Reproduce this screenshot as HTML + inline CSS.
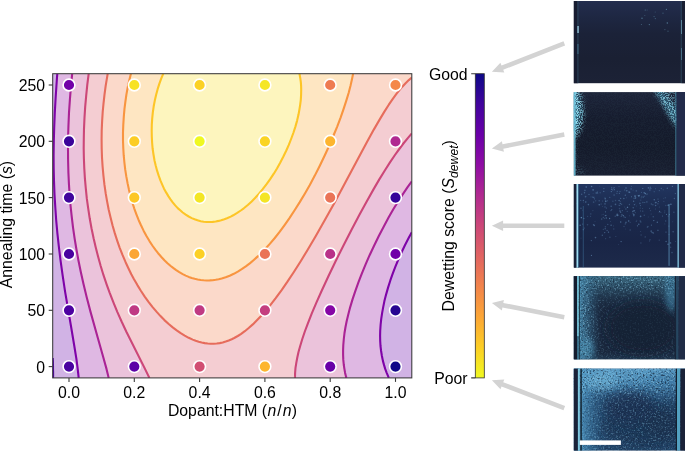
<!DOCTYPE html><html><head><meta charset="utf-8"><title>fig</title><style>html,body{margin:0;padding:0;background:#fff;overflow:hidden}svg{display:block;will-change:transform}text{font-family:"Liberation Sans",sans-serif;fill:#000}</style></head><body>
<svg width="685" height="452" viewBox="0 0 685 452">
<defs>
<clipPath id="pc"><rect x="52.7" y="73.7" width="359.1" height="304.2"/></clipPath>
<linearGradient id="cb" x1="0" y1="0" x2="0" y2="1"><stop offset="0" stop-color="#0d0887"/><stop offset="0.1" stop-color="#41049d"/><stop offset="0.2" stop-color="#6a00a8"/><stop offset="0.3" stop-color="#8f0da4"/><stop offset="0.4" stop-color="#b12a90"/><stop offset="0.5" stop-color="#cc4778"/><stop offset="0.6" stop-color="#e16462"/><stop offset="0.7" stop-color="#f2844b"/><stop offset="0.8" stop-color="#fca636"/><stop offset="0.9" stop-color="#fcce25"/><stop offset="1" stop-color="#f0f921"/></linearGradient>
<clipPath id="cp1"><rect x="573.6" y="1" width="111.4" height="82.4"/></clipPath>
<clipPath id="cp2"><rect x="573.6" y="92.1" width="111.4" height="83.7"/></clipPath>
<clipPath id="cp3"><rect x="573.6" y="184" width="111.4" height="83.8"/></clipPath>
<clipPath id="cp4"><rect x="573.6" y="276.1" width="111.4" height="83.5"/></clipPath>
<clipPath id="cp5"><rect x="573.6" y="368.4" width="111.4" height="82.3"/></clipPath>
<filter id="bl2" x="-0.3" y="-0.3" width="1.6" height="1.6"><feGaussianBlur stdDeviation="2.5"/></filter>
<filter id="bl4" x="-0.3" y="-0.3" width="1.6" height="1.6"><feGaussianBlur stdDeviation="5"/></filter>
<filter id="sB" x="0" y="0" width="1" height="1" color-interpolation-filters="sRGB"><feTurbulence type="fractalNoise" baseFrequency="0.9" numOctaves="2" seed="11"/><feColorMatrix type="matrix" values="0 0 0 0 0.498 0 0 0 0 0.824 0 0 0 0 0.910 7 0 0 0 -3.5"/><feGaussianBlur stdDeviation="0.45"/></filter>
<filter id="sD" x="0" y="0" width="1" height="1" color-interpolation-filters="sRGB"><feTurbulence type="fractalNoise" baseFrequency="0.9" numOctaves="2" seed="23"/><feColorMatrix type="matrix" values="0 0 0 0 0.047 0 0 0 0 0.086 0 0 0 0 0.149 0 0 7 0 -3.55"/><feGaussianBlur stdDeviation="0.45"/></filter>
<filter id="sE" x="0" y="0" width="1" height="1" color-interpolation-filters="sRGB"><feTurbulence type="fractalNoise" baseFrequency="0.85" numOctaves="2" seed="5"/><feColorMatrix type="matrix" values="0 0 0 0 0.659 0 0 0 0 0.902 0 0 0 0 0.957 0 8 0 0 -4.1"/><feGaussianBlur stdDeviation="0.45"/></filter>
<filter id="sG" x="0" y="0" width="1" height="1" color-interpolation-filters="sRGB"><feTurbulence type="fractalNoise" baseFrequency="0.6" numOctaves="2" seed="41"/><feColorMatrix type="matrix" values="0 0 0 0 0.549 0 0 0 0 0.784 0 0 0 0 0.894 4 0 0 0 -2.05"/><feGaussianBlur stdDeviation="0.55"/></filter>
<filter id="sH" x="0" y="0" width="1" height="1" color-interpolation-filters="sRGB"><feTurbulence type="fractalNoise" baseFrequency="0.6" numOctaves="2" seed="57"/><feColorMatrix type="matrix" values="0 0 0 0 0.055 0 0 0 0 0.102 0 0 0 0 0.173 0 4 0 0 -2.1"/><feGaussianBlur stdDeviation="0.55"/></filter>
<linearGradient id="p1b" gradientUnits="userSpaceOnUse" x1="0" y1="1" x2="0" y2="83.4"><stop offset="0" stop-color="#232d4e"/><stop offset="0.2" stop-color="#1e2742"/><stop offset="0.4" stop-color="#1b2238"/><stop offset="0.7" stop-color="#1a2033"/><stop offset="1" stop-color="#1c2236"/></linearGradient>
<linearGradient id="p2b" gradientUnits="userSpaceOnUse" x1="0" y1="92.1" x2="0" y2="175.8"><stop offset="0" stop-color="#1d2439"/><stop offset="0.3" stop-color="#161c2e"/><stop offset="0.65" stop-color="#141a2a"/><stop offset="1" stop-color="#191f31"/></linearGradient>
<mask id="m2"><rect x="573.6" y="92.1" width="111.4" height="83.7" fill="#080808"/><g filter="url(#bl2)"><ellipse cx="574" cy="112.1" rx="9" ry="25" fill="#fff"/><rect x="573" y="92.1" width="2" height="83.7" fill="#888"/><path d="M654 89.1L664 89.1L678 108.1L678 130.1Z" fill="#c8c8c8"/><rect x="668" y="90.1" width="8" height="12" fill="#777"/><rect x="576" y="168.8" width="8" height="5" fill="#444"/></g></mask>
<linearGradient id="p3b" gradientUnits="userSpaceOnUse" x1="0" y1="184" x2="0" y2="267.8"><stop offset="0" stop-color="#223660"/><stop offset="0.3" stop-color="#1b2a4e"/><stop offset="0.7" stop-color="#192546"/><stop offset="1" stop-color="#1d2a4a"/></linearGradient>
<linearGradient id="p4v" gradientUnits="userSpaceOnUse" x1="0" y1="276.1" x2="0" y2="359.6"><stop offset="0" stop-color="#41748c" stop-opacity="0.9"/><stop offset="0.15" stop-color="#335e76" stop-opacity="0.6"/><stop offset="0.28" stop-color="#2a4c64" stop-opacity="0.25"/><stop offset="0.38" stop-color="#2a4c64" stop-opacity="0"/><stop offset="0.9" stop-color="#2a4c68" stop-opacity="0"/><stop offset="1" stop-color="#2c5472" stop-opacity="0.35"/></linearGradient>
<linearGradient id="p4h" gradientUnits="userSpaceOnUse" x1="580" y1="0" x2="676" y2="0"><stop offset="0" stop-color="#4a8eb2" stop-opacity="0.85"/><stop offset="0.1" stop-color="#3c7698" stop-opacity="0.5"/><stop offset="0.22" stop-color="#2c5878" stop-opacity="0"/><stop offset="1" stop-color="#2c5878" stop-opacity="0"/></linearGradient>
<mask id="m4"><rect x="573.6" y="276.1" width="111.4" height="83.5" fill="#3a3a3a"/><ellipse cx="642" cy="326.1" rx="36" ry="27" fill="#141414" filter="url(#bl4)"/><rect x="573.6" y="274.1" width="111.4" height="16" fill="#909090" filter="url(#bl2)"/><rect x="578" y="276.1" width="14" height="83.5" fill="#909090" filter="url(#bl2)"/></mask>
<linearGradient id="p5v" gradientUnits="userSpaceOnUse" x1="0" y1="368.4" x2="0" y2="450.7"><stop offset="0" stop-color="#5ea2cc" stop-opacity="0.95"/><stop offset="0.18" stop-color="#4f92be" stop-opacity="0.85"/><stop offset="0.32" stop-color="#3c74a0" stop-opacity="0.45"/><stop offset="0.45" stop-color="#2d5a82" stop-opacity="0"/><stop offset="1" stop-color="#2d5a82" stop-opacity="0"/></linearGradient>
<linearGradient id="p5h" gradientUnits="userSpaceOnUse" x1="582" y1="0" x2="676" y2="0"><stop offset="0" stop-color="#4f98c4" stop-opacity="0.8"/><stop offset="0.12" stop-color="#3f80ac" stop-opacity="0.45"/><stop offset="0.28" stop-color="#2d5a82" stop-opacity="0"/><stop offset="1" stop-color="#2d5a82" stop-opacity="0"/></linearGradient>
<mask id="m5"><rect x="573.6" y="368.4" width="111.4" height="82.3" fill="#5a5a5a"/><rect x="573.6" y="364.4" width="111.4" height="30" fill="#a0a0a0" filter="url(#bl4)"/></mask>
</defs>
<rect width="685" height="452" fill="#fff"/>
<g clip-path="url(#pc)">
<rect x="52.7" y="73.7" width="359.1" height="304.2" fill="#c1b4e0"/>
<path d="M52.7 358.0 L52.8 359.9 L52.9 361.9 L52.9 363.9 L53.0 365.9 L53.0 367.9 L53.0 369.9 L53.1 371.9 L53.1 373.9 L53.1 375.9 L53.0 377.9 L52.7 375.9 L52.7 373.9 L52.7 371.9 L52.7 369.9 L52.7 367.9 L52.7 365.9 L52.7 363.9 L52.7 361.9 L52.7 359.9 L52.7 358.0 L52.7 358.0Z" fill="#c1b4e0" stroke="#c1b4e0" stroke-width="0.6" fill-rule="evenodd"/>
<path d="M53.7 73.7 L55.7 73.7 L57.3 73.7 L57.1 75.7 L57.0 77.7 L56.8 79.7 L56.7 81.2 L56.6 82.7 L56.5 84.7 L56.3 86.7 L56.2 88.7 L56.0 90.7 L55.9 92.7 L55.8 94.6 L55.7 96.0 L55.6 97.6 L55.5 99.6 L55.4 101.6 L55.2 103.6 L55.1 105.6 L55.0 107.6 L54.9 109.6 L54.8 111.6 L54.7 113.6 L54.6 115.6 L54.5 117.6 L54.5 119.6 L54.4 121.6 L54.3 123.6 L54.2 125.6 L54.2 127.6 L54.1 129.6 L54.0 131.5 L54.0 133.5 L53.9 135.5 L53.9 137.5 L53.8 139.5 L53.8 141.5 L53.8 143.5 L53.7 145.5 L53.7 147.4 L53.7 149.5 L53.7 151.5 L53.7 153.5 L53.6 155.5 L53.6 157.5 L53.6 159.5 L53.7 161.5 L53.7 163.5 L53.7 165.5 L53.7 167.5 L53.7 169.4 L53.8 171.4 L53.8 173.4 L53.9 175.4 L53.9 177.4 L54.0 179.4 L54.0 181.4 L54.1 183.4 L54.2 185.4 L54.2 187.4 L54.3 189.4 L54.4 191.4 L54.5 193.4 L54.6 195.4 L54.7 197.4 L54.8 199.4 L54.9 201.4 L55.0 203.4 L55.1 205.4 L55.3 207.3 L55.4 209.3 L55.5 211.3 L55.7 213.3 L55.8 215.3 L56.0 217.3 L56.1 219.3 L56.3 221.3 L56.5 223.3 L56.6 225.3 L56.8 227.3 L57.0 229.3 L57.2 231.3 L57.4 233.3 L57.6 235.3 L57.8 237.3 L58.0 239.3 L58.2 241.3 L58.4 243.3 L58.7 245.2 L58.9 247.2 L59.1 249.2 L59.4 251.2 L59.6 253.2 L59.9 255.2 L60.1 257.2 L60.4 259.2 L60.6 261.2 L60.9 263.2 L61.2 265.2 L61.4 267.2 L61.7 269.1 L62.0 271.2 L62.3 273.2 L62.6 275.2 L62.9 277.2 L63.2 279.2 L63.5 281.2 L63.7 282.6 L63.9 284.1 L64.3 286.1 L64.6 288.1 L64.9 290.1 L65.2 292.1 L65.5 294.1 L65.9 296.1 L66.2 298.1 L66.5 300.1 L66.9 302.1 L67.2 304.1 L67.5 306.1 L67.9 308.1 L68.2 310.1 L68.6 312.1 L68.9 314.1 L69.2 316.1 L69.6 318.1 L69.9 320.1 L70.3 322.0 L70.6 324.0 L71.0 326.0 L71.3 328.0 L71.7 330.0 L72.0 332.0 L72.3 334.0 L72.7 336.0 L73.0 338.0 L73.4 340.0 L73.7 342.0 L74.0 344.0 L74.3 346.0 L74.7 348.0 L75.0 350.0 L75.3 352.0 L75.6 354.0 L75.9 356.0 L76.2 358.0 L76.5 359.9 L76.7 361.5 L76.9 362.9 L77.2 364.9 L77.4 366.9 L77.7 368.9 L77.9 370.9 L78.2 372.9 L78.4 374.9 L78.6 376.9 L77.7 377.9 L75.7 377.9 L73.7 377.9 L71.7 377.9 L69.7 377.9 L67.7 377.9 L65.7 377.9 L63.7 377.9 L61.7 377.9 L59.7 377.9 L57.7 377.9 L55.7 377.9 L53.7 377.9 L53.1 375.9 L53.1 373.9 L53.1 371.9 L53.0 369.9 L53.0 367.9 L53.0 365.9 L52.9 363.9 L52.9 361.9 L52.8 359.9 L52.7 358.0 L52.7 356.0 L52.7 354.0 L52.7 352.0 L52.7 350.0 L52.7 348.0 L52.7 346.0 L52.7 344.0 L52.7 342.0 L52.7 340.0 L52.7 338.0 L52.7 336.0 L52.7 334.0 L52.7 332.0 L52.7 330.0 L52.7 328.0 L52.7 326.0 L52.7 324.0 L52.7 322.0 L52.7 320.1 L52.7 318.1 L52.7 316.1 L52.7 314.1 L52.7 312.1 L52.7 310.1 L52.7 308.1 L52.7 306.1 L52.7 304.1 L52.7 302.1 L52.7 300.1 L52.7 298.1 L52.7 296.1 L52.7 294.1 L52.7 292.1 L52.7 290.1 L52.7 288.1 L52.7 286.1 L52.7 284.1 L52.7 282.2 L52.7 280.2 L52.7 278.2 L52.7 276.2 L52.7 274.2 L52.7 272.2 L52.7 270.2 L52.7 268.2 L52.7 266.2 L52.7 264.2 L52.7 262.2 L52.7 260.2 L52.7 258.2 L52.7 256.2 L52.7 254.2 L52.7 252.2 L52.7 250.2 L52.7 248.2 L52.7 246.2 L52.7 244.3 L52.7 242.3 L52.7 240.3 L52.7 238.3 L52.7 236.3 L52.7 234.3 L52.7 232.3 L52.7 230.3 L52.7 228.3 L52.7 226.3 L52.7 224.3 L52.7 222.3 L52.7 220.3 L52.7 218.3 L52.7 216.3 L52.7 214.3 L52.7 212.3 L52.7 210.3 L52.7 208.3 L52.7 206.4 L52.7 204.4 L52.7 202.4 L52.7 200.4 L52.7 198.4 L52.7 196.4 L52.7 194.4 L52.7 192.4 L52.7 190.4 L52.7 188.4 L52.7 186.4 L52.7 184.4 L52.7 182.4 L52.7 180.4 L52.7 178.4 L52.7 176.4 L52.7 174.4 L52.7 172.4 L52.7 170.4 L52.7 168.5 L52.7 166.5 L52.7 164.5 L52.7 162.5 L52.7 160.5 L52.7 158.5 L52.7 156.5 L52.7 154.5 L52.7 152.5 L52.7 150.5 L52.7 148.5 L52.7 146.5 L52.7 144.5 L52.7 142.5 L52.7 140.5 L52.7 138.5 L52.7 136.5 L52.7 134.5 L52.7 132.5 L52.7 130.6 L52.7 128.6 L52.7 126.6 L52.7 124.6 L52.7 122.6 L52.7 120.6 L52.7 118.6 L52.7 116.6 L52.7 114.6 L52.7 112.6 L52.7 110.6 L52.7 108.6 L52.7 106.6 L52.7 104.6 L52.7 102.6 L52.7 100.6 L52.7 98.6 L52.7 96.6 L52.7 94.6 L52.7 92.7 L52.7 90.7 L52.7 88.7 L52.7 86.7 L52.7 84.7 L52.7 82.7 L52.7 80.7 L52.7 78.7 L52.7 76.7 L52.7 74.7 L53.7 73.7Z M411.8 232.2 L411.8 234.3 L411.8 236.3 L411.8 238.3 L411.8 240.3 L411.8 242.3 L411.8 244.3 L411.8 246.2 L411.8 248.2 L411.8 250.2 L411.8 252.2 L411.8 254.2 L411.8 256.2 L411.8 258.2 L411.8 260.2 L411.8 262.2 L411.8 264.2 L411.8 266.2 L411.8 268.2 L411.8 270.2 L411.8 272.2 L411.8 274.2 L411.8 276.2 L411.8 278.2 L411.8 280.2 L411.8 282.2 L411.8 284.1 L411.8 286.1 L411.8 288.1 L411.8 290.1 L411.8 292.1 L411.8 294.1 L411.8 296.1 L411.8 298.1 L411.8 300.1 L411.8 302.1 L411.8 304.1 L411.8 306.1 L411.8 308.1 L411.8 310.1 L411.8 312.1 L411.8 314.1 L411.8 316.1 L411.8 318.1 L411.8 320.1 L411.8 322.0 L411.8 324.0 L411.8 326.0 L411.8 328.0 L411.8 330.0 L411.8 332.0 L411.8 334.0 L411.8 336.0 L411.8 338.0 L411.8 340.0 L411.8 342.0 L411.8 344.0 L411.8 346.0 L411.8 348.0 L411.8 350.0 L411.8 352.0 L411.8 354.0 L411.8 356.0 L411.8 358.0 L411.8 359.9 L411.8 361.9 L411.8 363.9 L411.8 365.9 L411.8 367.9 L411.8 369.9 L411.8 371.9 L411.8 373.9 L411.8 375.9 L411.8 377.9 L409.8 377.9 L407.8 377.9 L405.8 377.9 L403.8 377.9 L401.8 377.9 L399.8 377.9 L397.8 377.9 L395.8 377.9 L393.8 377.9 L391.8 377.9 L389.8 377.9 L388.4 376.9 L387.8 375.6 L387.1 373.9 L386.3 371.9 L385.8 370.5 L385.2 368.9 L384.8 367.6 L384.3 365.9 L383.8 364.3 L383.4 362.9 L382.9 360.9 L382.5 358.9 L382.0 357.0 L381.8 355.6 L381.5 354.0 L381.2 352.0 L380.9 350.0 L380.7 348.0 L380.5 346.0 L380.4 344.0 L380.2 342.0 L380.2 340.0 L380.1 338.0 L380.1 336.0 L380.1 334.0 L380.2 332.0 L380.2 330.0 L380.4 328.0 L380.5 326.0 L380.7 324.0 L380.8 322.7 L381.0 321.0 L381.2 319.1 L381.5 317.1 L381.8 315.1 L382.1 313.1 L382.4 311.1 L382.8 309.1 L383.2 307.1 L383.6 305.1 L384.0 303.1 L384.4 301.1 L384.8 299.6 L385.2 298.1 L385.7 296.1 L386.2 294.1 L386.7 292.1 L387.3 290.1 L387.8 288.5 L388.2 287.1 L388.8 285.2 L389.4 283.1 L390.1 281.2 L390.8 279.2 L391.5 277.2 L392.2 275.2 L392.8 273.4 L393.3 272.2 L393.8 270.7 L394.4 269.2 L395.2 267.2 L395.8 265.6 L396.4 264.2 L397.2 262.2 L397.8 260.8 L398.5 259.2 L399.3 257.2 L400.2 255.2 L400.8 253.9 L401.6 252.2 L402.5 250.2 L403.5 248.2 L404.4 246.2 L405.4 244.3 L406.4 242.3 L407.5 240.3 L408.5 238.3 L409.6 236.3 L410.7 234.3 L411.8 232.3 L411.8 232.2Z" fill="#d1b3e5" stroke="#d1b3e5" stroke-width="0.6" fill-rule="evenodd"/>
<path d="M57.7 73.7 L59.7 73.7 L61.7 73.7 L63.7 73.7 L65.7 73.7 L67.7 73.7 L69.7 73.7 L71.7 73.7 L72.0 75.7 L71.8 77.7 L71.6 79.7 L71.4 81.7 L71.2 83.7 L71.0 85.7 L70.8 87.7 L70.7 89.3 L70.6 90.7 L70.4 92.7 L70.3 94.6 L70.1 96.6 L70.0 98.6 L69.8 100.6 L69.7 102.0 L69.6 103.6 L69.5 105.6 L69.3 107.6 L69.2 109.6 L69.1 111.6 L69.0 113.6 L68.9 115.6 L68.8 117.6 L68.7 119.1 L68.6 120.6 L68.5 122.6 L68.5 124.6 L68.4 126.6 L68.3 128.6 L68.3 130.6 L68.2 132.5 L68.2 134.5 L68.1 136.5 L68.1 138.5 L68.0 140.5 L68.0 142.5 L68.0 144.5 L68.0 146.5 L68.0 148.5 L68.0 150.5 L68.0 152.5 L68.0 154.5 L68.0 156.5 L68.0 158.5 L68.1 160.5 L68.1 162.5 L68.1 164.5 L68.2 166.5 L68.2 168.5 L68.3 170.4 L68.4 172.4 L68.5 174.4 L68.5 176.4 L68.6 178.4 L68.7 180.1 L68.8 181.4 L68.9 183.4 L69.0 185.4 L69.1 187.4 L69.2 189.4 L69.4 191.4 L69.5 193.4 L69.7 195.4 L69.8 197.4 L70.0 199.4 L70.2 201.4 L70.3 203.4 L70.5 205.4 L70.7 207.3 L70.9 209.3 L71.1 211.3 L71.3 213.3 L71.5 215.3 L71.7 216.7 L71.9 218.3 L72.1 220.3 L72.4 222.3 L72.6 224.3 L72.9 226.3 L73.2 228.3 L73.4 230.3 L73.7 232.3 L74.0 234.3 L74.3 236.3 L74.6 238.3 L74.9 240.3 L75.2 242.3 L75.5 244.3 L75.9 246.2 L76.2 248.2 L76.6 250.2 L76.9 252.2 L77.3 254.2 L77.6 256.2 L78.0 258.2 L78.4 260.2 L78.7 261.8 L79.0 263.2 L79.4 265.2 L79.7 266.8 L80.0 268.2 L80.4 270.2 L80.7 271.6 L81.0 273.2 L81.5 275.2 L81.9 277.2 L82.4 279.2 L82.7 280.7 L83.0 282.2 L83.5 284.1 L84.0 286.1 L84.4 288.1 L84.9 290.1 L85.4 292.1 L85.7 293.3 L86.2 295.1 L86.7 297.1 L87.2 299.1 L87.7 301.1 L88.2 303.1 L88.7 305.1 L89.2 307.1 L89.7 308.9 L90.0 310.1 L90.6 312.1 L91.1 314.1 L91.7 316.1 L92.2 318.1 L92.7 319.9 L93.0 321.0 L93.6 323.0 L94.2 325.0 L94.7 327.0 L95.3 329.0 L95.7 330.5 L96.1 332.0 L96.7 334.0 L97.3 336.0 L97.7 337.5 L98.1 339.0 L98.7 341.0 L99.3 343.0 L99.7 344.5 L100.1 346.0 L100.7 348.0 L101.3 350.0 L101.7 351.5 L102.1 353.0 L102.7 355.0 L103.2 357.0 L103.7 358.7 L104.1 359.9 L104.6 361.9 L105.1 363.9 L105.7 365.9 L106.2 367.9 L106.7 369.9 L107.2 371.9 L107.7 373.9 L108.2 375.9 L108.7 377.9 L106.7 377.9 L104.7 377.9 L102.7 377.9 L100.7 377.9 L98.7 377.9 L96.7 377.9 L94.7 377.9 L92.7 377.9 L90.7 377.9 L88.7 377.9 L86.7 377.9 L84.7 377.9 L82.7 377.9 L80.7 377.9 L78.7 377.9 L78.5 375.9 L78.3 373.9 L78.1 371.9 L77.8 369.9 L77.6 367.9 L77.3 365.9 L77.1 363.9 L76.8 361.9 L76.5 359.9 L76.2 358.0 L75.9 356.0 L75.7 354.6 L75.5 353.0 L75.1 351.0 L74.8 349.0 L74.5 347.0 L74.2 345.0 L73.9 343.0 L73.5 341.0 L73.2 339.0 L72.9 337.0 L72.5 335.0 L72.2 333.0 L71.8 331.0 L71.5 329.0 L71.1 327.0 L70.8 325.0 L70.5 323.0 L70.1 321.0 L69.8 319.1 L69.4 317.1 L69.1 315.1 L68.7 313.1 L68.4 311.1 L68.0 309.1 L67.7 307.1 L67.4 305.1 L67.0 303.1 L66.7 301.2 L66.4 299.1 L66.0 297.1 L65.7 295.2 L65.4 293.1 L65.0 291.1 L64.7 289.1 L64.4 287.1 L64.1 285.1 L63.8 283.1 L63.5 281.2 L63.2 279.2 L62.9 277.2 L62.6 275.2 L62.3 273.2 L62.0 271.2 L61.7 269.2 L61.4 267.2 L61.2 265.2 L60.9 263.2 L60.7 261.8 L60.5 260.2 L60.2 258.2 L60.0 256.2 L59.7 254.2 L59.5 252.2 L59.2 250.2 L59.0 248.2 L58.8 246.2 L58.5 244.3 L58.3 242.3 L58.1 240.3 L57.9 238.3 L57.7 236.4 L57.5 234.3 L57.3 232.3 L57.1 230.3 L56.9 228.3 L56.7 226.3 L56.5 224.3 L56.4 222.3 L56.2 220.3 L56.1 218.3 L55.9 216.3 L55.7 214.3 L55.6 212.3 L55.5 210.3 L55.3 208.3 L55.2 206.4 L55.1 204.4 L55.0 202.4 L54.8 200.4 L54.7 198.4 L54.6 196.4 L54.5 194.4 L54.4 192.4 L54.3 190.4 L54.3 188.4 L54.2 186.4 L54.1 184.4 L54.1 182.4 L54.0 180.4 L53.9 178.4 L53.9 176.4 L53.8 174.4 L53.8 172.4 L53.8 170.4 L53.7 168.5 L53.7 166.5 L53.7 164.5 L53.7 162.5 L53.7 160.5 L53.6 158.5 L53.6 156.5 L53.6 154.5 L53.7 152.5 L53.7 150.5 L53.7 148.5 L53.7 146.5 L53.7 144.5 L53.8 142.5 L53.8 140.5 L53.8 138.5 L53.9 136.5 L53.9 134.5 L54.0 132.5 L54.1 130.6 L54.1 128.6 L54.2 126.6 L54.3 124.6 L54.3 122.6 L54.4 120.6 L54.5 118.6 L54.6 116.6 L54.7 114.6 L54.8 112.6 L54.9 110.6 L55.0 108.6 L55.1 106.6 L55.2 104.6 L55.3 102.6 L55.4 100.6 L55.5 98.6 L55.7 96.6 L55.8 94.6 L55.9 92.7 L56.0 90.7 L56.2 88.7 L56.3 86.7 L56.5 84.7 L56.6 82.7 L56.7 81.2 L56.8 79.7 L57.0 77.7 L57.1 75.7 L57.3 73.7 L57.7 73.7Z M411.8 181.3 L411.8 183.4 L411.8 185.4 L411.8 187.4 L411.8 189.4 L411.8 191.4 L411.8 193.4 L411.8 195.4 L411.8 197.4 L411.8 199.4 L411.8 201.4 L411.8 203.4 L411.8 205.4 L411.8 207.3 L411.8 209.3 L411.8 211.3 L411.8 213.3 L411.8 215.3 L411.8 217.3 L411.8 219.3 L411.8 221.3 L411.8 223.3 L411.8 225.3 L411.8 227.3 L411.8 229.3 L411.8 231.3 L411.2 233.3 L410.1 235.3 L409.0 237.3 L408.0 239.3 L406.9 241.3 L405.9 243.3 L404.9 245.2 L403.9 247.2 L403.0 249.2 L402.0 251.2 L401.1 253.2 L400.2 255.2 L399.3 257.2 L398.8 258.4 L398.0 260.2 L397.2 262.2 L396.4 264.2 L395.8 265.6 L395.2 267.2 L394.4 269.2 L393.8 270.7 L393.3 272.2 L392.8 273.4 L392.2 275.2 L391.5 277.2 L390.8 279.1 L390.1 281.2 L389.4 283.1 L388.8 285.1 L388.2 287.1 L387.8 288.5 L387.3 290.1 L386.8 291.9 L386.5 293.1 L385.9 295.1 L385.4 297.1 L384.9 299.1 L384.4 301.1 L384.0 303.1 L383.6 305.1 L383.2 307.1 L382.8 309.0 L382.4 311.1 L382.1 313.1 L381.8 314.8 L381.6 316.1 L381.3 318.1 L381.1 320.1 L380.9 322.0 L380.7 324.0 L380.5 326.0 L380.4 328.0 L380.2 330.0 L380.2 332.0 L380.1 334.0 L380.1 336.0 L380.1 338.0 L380.2 340.0 L380.2 342.0 L380.4 344.0 L380.5 346.0 L380.7 348.0 L380.9 350.0 L381.2 352.0 L381.5 354.0 L381.8 355.6 L382.0 357.0 L382.5 358.9 L382.8 360.4 L383.2 361.9 L383.7 363.9 L384.3 365.9 L384.8 367.6 L385.2 368.9 L385.8 370.5 L386.3 371.9 L386.8 373.1 L387.5 374.9 L388.4 376.9 L386.8 377.9 L384.8 377.9 L382.8 377.9 L380.8 377.9 L378.8 377.9 L376.8 377.9 L374.8 377.9 L372.8 377.9 L370.8 377.9 L368.8 377.9 L366.8 377.9 L364.8 377.9 L362.8 377.9 L360.8 377.9 L358.8 377.9 L356.8 377.9 L354.8 377.9 L352.8 377.9 L350.8 377.9 L348.8 377.9 L346.8 377.9 L346.1 376.9 L345.8 375.7 L345.4 373.9 L344.9 371.9 L344.5 369.9 L344.2 367.9 L343.9 365.9 L343.7 363.9 L343.5 361.9 L343.3 359.9 L343.2 358.0 L343.1 356.0 L343.0 354.0 L343.0 352.0 L343.1 350.0 L343.1 348.0 L343.2 346.0 L343.3 344.0 L343.5 342.0 L343.7 340.0 L343.9 338.0 L344.1 336.0 L344.4 334.0 L344.7 332.0 L345.0 330.0 L345.4 328.0 L345.7 326.0 L346.1 324.0 L346.5 322.0 L346.8 320.8 L347.2 319.1 L347.6 317.1 L348.1 315.1 L348.6 313.1 L349.1 311.1 L349.7 309.1 L350.2 307.1 L350.8 305.2 L351.4 303.1 L351.8 301.8 L352.3 300.1 L352.8 298.6 L353.3 297.1 L353.8 295.5 L354.3 294.1 L354.8 292.5 L355.3 291.1 L355.8 289.6 L356.3 288.1 L356.8 286.8 L357.4 285.1 L358.1 283.1 L358.8 281.4 L359.2 280.2 L359.8 278.7 L360.4 277.2 L361.2 275.2 L361.8 273.6 L362.4 272.2 L363.2 270.2 L363.8 268.7 L364.4 267.2 L365.3 265.2 L365.8 264.0 L366.5 262.2 L367.4 260.2 L368.3 258.2 L368.8 257.1 L369.6 255.2 L370.5 253.2 L371.5 251.2 L372.4 249.2 L373.3 247.2 L374.3 245.2 L374.8 244.2 L375.7 242.3 L376.7 240.3 L377.7 238.3 L378.7 236.3 L379.7 234.3 L380.7 232.3 L381.7 230.3 L382.8 228.3 L383.8 226.4 L384.4 225.3 L385.4 223.3 L386.5 221.3 L387.6 219.3 L388.7 217.3 L389.8 215.5 L390.4 214.3 L391.6 212.3 L392.7 210.3 L393.8 208.6 L394.5 207.3 L395.7 205.4 L396.8 203.6 L397.6 202.4 L398.8 200.4 L399.8 198.8 L400.7 197.4 L401.8 195.7 L402.7 194.4 L403.8 192.7 L404.7 191.4 L405.3 190.4 L406.0 189.4 L406.7 188.4 L407.4 187.4 L408.1 186.4 L408.8 185.4 L409.5 184.4 L410.3 183.4 L411.0 182.4 L411.7 181.4 L411.8 181.3Z" fill="#dfb8e3" stroke="#dfb8e3" stroke-width="0.6" fill-rule="evenodd"/>
<path d="M72.7 73.7 L74.7 73.7 L76.7 73.7 L78.7 73.7 L80.7 73.7 L82.7 73.7 L84.7 73.7 L86.7 73.7 L88.7 73.7 L88.5 75.7 L88.2 77.7 L87.9 79.7 L87.7 81.5 L87.5 83.7 L87.2 85.7 L87.0 87.7 L86.8 89.7 L86.6 91.7 L86.3 93.6 L86.2 95.6 L86.0 97.6 L85.8 99.6 L85.6 101.6 L85.4 103.6 L85.3 105.6 L85.1 107.6 L85.0 109.6 L84.8 111.6 L84.7 113.6 L84.6 115.6 L84.5 117.6 L84.4 119.6 L84.3 121.6 L84.2 123.6 L84.1 125.6 L84.0 127.6 L84.0 129.6 L83.9 131.5 L83.8 133.5 L83.8 135.5 L83.8 137.5 L83.7 139.5 L83.7 141.5 L83.7 143.5 L83.7 145.5 L83.7 147.5 L83.7 149.5 L83.8 151.5 L83.8 153.5 L83.8 155.5 L83.9 157.5 L83.9 159.5 L84.0 161.5 L84.1 163.5 L84.2 165.5 L84.3 167.5 L84.4 169.4 L84.5 171.4 L84.6 173.4 L84.7 175.3 L84.9 177.4 L85.0 179.4 L85.2 181.4 L85.3 183.4 L85.5 185.4 L85.7 187.4 L85.9 189.4 L86.1 191.4 L86.3 193.4 L86.5 195.4 L86.7 197.2 L87.0 199.4 L87.2 201.4 L87.5 203.4 L87.7 205.2 L88.0 207.3 L88.3 209.3 L88.6 211.3 L88.9 213.3 L89.2 215.3 L89.5 217.3 L89.9 219.3 L90.2 221.3 L90.6 223.3 L90.9 225.3 L91.3 227.3 L91.7 229.3 L92.1 231.3 L92.5 233.3 L92.9 235.3 L93.4 237.3 L93.7 238.9 L94.0 240.3 L94.5 242.3 L94.9 244.3 L95.4 246.2 L95.7 247.5 L96.1 249.2 L96.6 251.2 L97.2 253.2 L97.7 255.2 L98.2 257.2 L98.7 259.0 L99.0 260.2 L99.6 262.2 L100.2 264.2 L100.7 266.0 L101.1 267.2 L101.7 269.2 L102.3 271.2 L102.7 272.6 L103.2 274.2 L103.7 275.7 L104.2 277.2 L104.7 278.7 L105.2 280.2 L105.7 281.7 L106.2 283.1 L106.7 284.6 L107.3 286.1 L107.7 287.4 L108.3 289.1 L109.1 291.1 L109.7 292.9 L110.2 294.1 L110.7 295.5 L111.3 297.1 L112.1 299.1 L112.7 300.7 L113.3 302.1 L114.1 304.1 L114.7 305.6 L115.3 307.1 L116.1 309.1 L116.7 310.4 L117.4 312.1 L118.3 314.1 L119.1 316.1 L119.7 317.4 L120.5 319.1 L121.4 321.0 L122.3 323.0 L123.2 325.0 L123.7 326.2 L124.6 328.0 L125.5 330.0 L126.5 332.0 L127.4 334.0 L128.4 336.0 L129.4 338.0 L130.4 340.0 L131.3 342.0 L132.3 344.0 L133.3 346.0 L134.3 348.0 L135.4 350.0 L136.4 352.0 L137.4 354.0 L138.4 356.0 L139.4 358.0 L140.4 359.9 L141.5 361.9 L142.5 363.9 L143.5 365.9 L144.5 367.9 L145.5 369.9 L146.5 371.9 L147.5 373.9 L148.5 375.9 L149.4 377.9 L147.7 377.9 L145.7 377.9 L143.7 377.9 L141.7 377.9 L139.7 377.9 L137.7 377.9 L135.7 377.9 L133.7 377.9 L131.7 377.9 L129.7 377.9 L127.7 377.9 L125.7 377.9 L123.7 377.9 L121.7 377.9 L119.7 377.9 L117.7 377.9 L115.7 377.9 L113.7 377.9 L111.7 377.9 L109.7 377.9 L108.4 376.9 L108.0 374.9 L107.5 372.9 L107.0 370.9 L106.5 368.9 L105.9 366.9 L105.4 364.9 L104.9 362.9 L104.3 360.9 L103.8 358.9 L103.2 357.0 L102.7 355.1 L102.1 353.0 L101.7 351.5 L101.3 350.0 L100.7 348.0 L100.1 346.0 L99.7 344.5 L99.3 343.0 L98.7 341.0 L98.1 339.0 L97.7 337.5 L97.3 336.0 L96.7 334.0 L96.1 332.0 L95.7 330.5 L95.3 329.0 L94.7 327.0 L94.2 325.0 L93.7 323.4 L93.3 322.0 L92.8 320.1 L92.2 318.1 L91.7 316.2 L91.4 315.1 L90.8 313.1 L90.3 311.1 L89.8 309.1 L89.2 307.1 L88.7 305.1 L88.2 303.1 L87.7 301.2 L87.2 299.1 L86.7 297.3 L86.4 296.1 L85.9 294.1 L85.4 292.1 L84.9 290.1 L84.4 288.1 L84.0 286.1 L83.5 284.1 L83.0 282.2 L82.7 280.7 L82.4 279.2 L81.9 277.2 L81.5 275.2 L81.0 273.2 L80.7 271.6 L80.4 270.2 L80.0 268.2 L79.7 266.8 L79.4 265.2 L79.0 263.2 L78.7 261.8 L78.4 260.2 L78.0 258.2 L77.7 256.6 L77.5 255.2 L77.1 253.2 L76.7 251.2 L76.4 249.2 L76.0 247.2 L75.7 245.2 L75.4 243.3 L75.1 241.3 L74.7 239.3 L74.4 237.3 L74.1 235.3 L73.9 233.3 L73.6 231.3 L73.3 229.3 L73.0 227.3 L72.8 225.3 L72.5 223.3 L72.3 221.3 L72.0 219.3 L71.8 217.3 L71.5 215.3 L71.3 213.3 L71.1 211.3 L70.9 209.3 L70.7 207.3 L70.5 205.4 L70.3 203.4 L70.2 201.4 L70.0 199.4 L69.8 197.4 L69.7 195.8 L69.6 194.4 L69.4 192.4 L69.3 190.4 L69.2 188.4 L69.1 186.4 L68.9 184.4 L68.8 182.4 L68.7 180.4 L68.6 178.4 L68.5 176.4 L68.5 174.4 L68.4 172.4 L68.3 170.4 L68.2 168.5 L68.2 166.5 L68.1 164.5 L68.1 162.5 L68.1 160.5 L68.0 158.5 L68.0 156.5 L68.0 154.5 L68.0 152.5 L68.0 150.5 L68.0 148.5 L68.0 146.5 L68.0 144.5 L68.0 142.5 L68.0 140.5 L68.1 138.5 L68.1 136.5 L68.2 134.5 L68.2 132.5 L68.3 130.6 L68.3 128.6 L68.4 126.6 L68.5 124.6 L68.5 122.6 L68.6 120.6 L68.7 119.1 L68.8 117.6 L68.9 115.6 L69.0 113.6 L69.1 111.6 L69.2 109.6 L69.3 107.6 L69.5 105.6 L69.6 103.6 L69.7 102.0 L69.8 100.6 L70.0 98.6 L70.1 96.6 L70.3 94.6 L70.4 92.7 L70.6 90.7 L70.7 89.3 L70.8 87.7 L71.0 85.7 L71.2 83.7 L71.4 81.7 L71.6 79.7 L71.7 78.5 L71.9 76.7 L72.1 74.7 L72.7 73.7Z M411.8 133.5 L411.8 135.5 L411.8 137.5 L411.8 139.5 L411.8 141.5 L411.8 143.5 L411.8 145.5 L411.8 147.5 L411.8 149.5 L411.8 151.5 L411.8 153.5 L411.8 155.5 L411.8 157.5 L411.8 159.5 L411.8 161.5 L411.8 163.5 L411.8 165.5 L411.8 167.5 L411.8 169.4 L411.8 171.4 L411.8 173.4 L411.8 175.4 L411.8 177.4 L411.8 179.4 L411.8 181.3 L411.0 182.4 L410.3 183.4 L409.5 184.4 L408.8 185.4 L408.1 186.4 L407.4 187.4 L406.7 188.4 L406.0 189.4 L405.3 190.4 L404.7 191.4 L404.0 192.4 L402.8 194.2 L402.0 195.4 L400.8 197.2 L400.1 198.4 L398.8 200.4 L397.8 202.0 L396.9 203.4 L395.8 205.2 L395.1 206.4 L393.9 208.3 L392.8 210.3 L392.2 211.3 L391.0 213.3 L389.9 215.3 L388.8 217.2 L388.2 218.3 L387.1 220.3 L386.0 222.3 L384.9 224.3 L383.8 226.3 L382.8 228.3 L381.8 230.2 L381.2 231.3 L380.2 233.3 L379.2 235.3 L378.2 237.3 L377.2 239.3 L376.2 241.3 L375.2 243.3 L374.3 245.2 L373.3 247.2 L372.8 248.4 L371.9 250.2 L371.0 252.2 L370.1 254.2 L369.2 256.2 L368.3 258.2 L367.8 259.4 L367.0 261.2 L366.1 263.2 L365.3 265.2 L364.8 266.3 L364.0 268.2 L363.2 270.2 L362.4 272.2 L361.8 273.6 L361.2 275.2 L360.4 277.2 L359.8 278.7 L359.2 280.2 L358.8 281.4 L358.1 283.1 L357.4 285.1 L356.8 286.8 L356.3 288.1 L355.8 289.6 L355.3 291.1 L354.8 292.5 L354.3 294.1 L353.8 295.5 L353.3 297.1 L352.8 298.6 L352.3 300.1 L351.8 301.8 L351.4 303.1 L350.8 305.1 L350.2 307.1 L349.8 308.7 L349.4 310.1 L348.9 312.1 L348.4 314.1 L347.9 316.1 L347.4 318.1 L347.0 320.1 L346.5 322.0 L346.1 324.0 L345.8 325.7 L345.5 327.0 L345.2 329.0 L344.8 331.0 L344.5 333.0 L344.3 335.0 L344.0 337.0 L343.8 339.0 L343.6 341.0 L343.4 343.0 L343.3 345.0 L343.2 347.0 L343.1 349.0 L343.0 351.0 L343.0 353.0 L343.1 355.0 L343.1 357.0 L343.2 358.9 L343.4 360.9 L343.5 362.9 L343.8 364.9 L344.0 366.9 L344.4 368.9 L344.7 370.9 L345.1 372.9 L345.6 374.9 L346.1 376.9 L344.8 377.9 L342.8 377.9 L340.8 377.9 L338.8 377.9 L336.8 377.9 L334.8 377.9 L332.8 377.9 L330.8 377.9 L328.8 377.9 L326.8 377.9 L324.8 377.9 L322.8 377.9 L320.8 377.9 L318.8 377.9 L316.8 377.9 L314.8 377.9 L312.8 377.9 L310.8 377.9 L308.8 377.9 L306.8 377.9 L304.8 377.9 L302.8 377.9 L300.8 377.9 L298.8 377.9 L296.8 377.9 L294.9 377.9 L295.0 375.9 L295.0 373.9 L295.2 371.9 L295.3 369.9 L295.5 367.9 L295.8 366.2 L295.9 364.9 L296.3 362.9 L296.6 360.9 L297.0 358.9 L297.4 357.0 L297.8 355.2 L298.1 354.0 L298.5 352.0 L299.1 350.0 L299.6 348.0 L300.2 346.0 L300.7 344.0 L301.3 342.0 L301.8 340.6 L302.3 339.0 L302.8 337.5 L303.3 336.0 L303.8 334.6 L304.3 333.0 L304.8 331.7 L305.4 330.0 L306.1 328.0 L306.8 326.2 L307.2 325.0 L307.8 323.6 L308.4 322.0 L309.1 320.1 L309.8 318.4 L310.3 317.1 L310.8 315.9 L311.5 314.1 L312.4 312.1 L313.2 310.1 L313.8 308.7 L314.4 307.1 L315.3 305.1 L316.2 303.1 L316.8 301.7 L317.5 300.1 L318.3 298.1 L319.2 296.1 L319.8 294.9 L320.6 293.1 L321.5 291.1 L322.4 289.1 L323.3 287.1 L324.2 285.1 L324.8 284.0 L325.6 282.2 L326.5 280.2 L327.5 278.2 L328.4 276.2 L329.4 274.2 L330.3 272.2 L331.3 270.2 L332.2 268.2 L332.8 267.1 L333.7 265.2 L334.7 263.2 L335.6 261.2 L336.6 259.2 L337.6 257.2 L338.6 255.2 L339.6 253.2 L340.6 251.2 L341.6 249.2 L342.6 247.2 L343.6 245.2 L344.6 243.3 L345.6 241.3 L346.6 239.3 L347.6 237.3 L348.7 235.3 L349.7 233.3 L350.7 231.3 L351.8 229.3 L352.8 227.3 L353.8 225.4 L354.4 224.3 L355.4 222.3 L356.5 220.3 L357.5 218.3 L358.6 216.3 L359.7 214.3 L360.7 212.3 L361.8 210.4 L362.8 208.5 L363.4 207.3 L364.5 205.4 L365.6 203.4 L366.7 201.4 L367.8 199.4 L368.4 198.4 L369.5 196.4 L370.6 194.4 L371.8 192.4 L372.8 190.6 L373.5 189.4 L374.6 187.4 L375.8 185.4 L376.8 183.7 L377.5 182.4 L378.7 180.4 L379.8 178.7 L380.5 177.4 L381.7 175.4 L382.8 173.7 L383.6 172.4 L384.8 170.5 L385.5 169.4 L386.7 167.5 L387.8 165.8 L388.6 164.5 L389.8 162.7 L390.6 161.5 L391.8 159.7 L392.6 158.5 L393.3 157.5 L394.0 156.5 L394.6 155.5 L395.3 154.5 L396.0 153.5 L396.7 152.5 L397.5 151.5 L398.2 150.5 L398.9 149.5 L399.6 148.5 L400.4 147.5 L401.1 146.5 L401.9 145.5 L402.6 144.5 L403.4 143.5 L404.2 142.5 L405.0 141.5 L405.8 140.5 L406.6 139.5 L407.4 138.5 L408.3 137.5 L409.1 136.5 L410.0 135.5 L410.8 134.6 L411.7 133.5 L411.8 133.5Z" fill="#ebc3db" stroke="#ebc3db" stroke-width="0.6" fill-rule="evenodd"/>
<path d="M88.7 73.9 L90.7 73.7 L92.7 73.7 L94.7 73.7 L96.7 73.7 L98.7 73.7 L100.7 73.7 L102.7 73.7 L104.7 73.7 L106.7 73.7 L107.5 74.7 L107.2 76.7 L106.8 78.7 L106.5 80.7 L106.2 82.7 L105.9 84.7 L105.6 86.7 L105.3 88.7 L105.0 90.7 L104.7 92.7 L104.5 94.6 L104.2 96.6 L104.0 98.6 L103.8 100.6 L103.6 102.6 L103.4 104.6 L103.2 106.6 L103.0 108.6 L102.8 110.6 L102.7 112.0 L102.6 113.6 L102.5 115.6 L102.3 117.6 L102.2 119.6 L102.1 121.6 L102.0 123.6 L101.9 125.6 L101.8 127.6 L101.8 129.6 L101.7 131.5 L101.7 133.5 L101.6 135.5 L101.6 137.5 L101.6 139.5 L101.6 141.5 L101.6 143.5 L101.6 145.5 L101.7 147.5 L101.7 149.3 L101.8 151.5 L101.8 153.5 L101.9 155.5 L102.0 157.5 L102.1 159.5 L102.2 161.5 L102.4 163.5 L102.5 165.5 L102.6 167.5 L102.8 169.4 L103.0 171.4 L103.2 173.4 L103.4 175.4 L103.6 177.4 L103.7 178.8 L103.9 180.4 L104.1 182.4 L104.4 184.4 L104.7 186.4 L104.9 188.4 L105.2 190.4 L105.5 192.4 L105.7 193.6 L106.0 195.4 L106.3 197.4 L106.7 199.4 L107.1 201.4 L107.4 203.4 L107.7 204.8 L108.0 206.4 L108.4 208.3 L108.7 209.7 L109.1 211.3 L109.5 213.3 L110.0 215.3 L110.5 217.3 L111.0 219.3 L111.5 221.3 L112.0 223.3 L112.5 225.3 L113.1 227.3 L113.6 229.3 L114.2 231.3 L114.7 232.9 L115.1 234.3 L115.7 236.1 L116.4 238.3 L117.1 240.3 L117.7 242.2 L118.4 244.3 L119.2 246.2 L119.7 247.8 L120.3 249.2 L120.7 250.4 L121.4 252.2 L122.2 254.2 L122.7 255.5 L123.4 257.2 L124.3 259.2 L125.1 261.2 L125.7 262.5 L126.5 264.2 L127.4 266.2 L128.4 268.2 L129.3 270.2 L130.3 272.2 L131.3 274.2 L132.4 276.2 L133.4 278.2 L134.5 280.2 L135.7 282.2 L136.7 284.0 L137.4 285.1 L138.6 287.1 L139.7 288.9 L140.5 290.1 L141.7 292.1 L142.4 293.1 L143.7 295.1 L144.4 296.1 L145.1 297.1 L145.8 298.1 L146.5 299.1 L147.3 300.1 L148.0 301.1 L148.7 302.1 L149.5 303.1 L150.3 304.1 L151.0 305.1 L151.8 306.1 L152.6 307.1 L153.4 308.1 L154.3 309.1 L155.1 310.1 L156.0 311.1 L156.8 312.1 L157.7 313.1 L158.6 314.1 L159.6 315.1 L160.5 316.1 L161.5 317.1 L162.4 318.1 L163.4 319.1 L164.4 320.1 L165.5 321.0 L166.6 322.0 L167.6 323.0 L168.7 324.0 L169.7 324.9 L170.7 325.7 L171.7 326.6 L172.7 327.4 L173.7 328.2 L174.7 329.0 L175.7 329.7 L176.7 330.4 L177.7 331.2 L178.7 331.9 L179.7 332.5 L181.7 333.8 L183.7 335.0 L184.7 335.6 L186.7 336.7 L188.7 337.8 L190.7 338.7 L192.7 339.6 L194.7 340.4 L196.4 341.0 L197.7 341.4 L199.7 342.0 L201.7 342.5 L203.7 342.9 L205.7 343.3 L207.7 343.5 L209.7 343.7 L211.7 343.7 L213.7 343.7 L215.7 343.6 L217.7 343.4 L219.7 343.1 L221.7 342.7 L223.7 342.2 L225.7 341.6 L227.5 341.0 L228.7 340.5 L230.0 340.0 L231.7 339.2 L233.8 338.3 L235.8 337.2 L237.8 336.0 L239.4 335.0 L240.8 334.1 L241.8 333.4 L242.8 332.7 L243.8 332.0 L244.8 331.2 L245.8 330.4 L246.8 329.6 L247.8 328.8 L248.8 327.9 L249.8 327.1 L250.8 326.2 L251.8 325.3 L252.8 324.4 L253.8 323.4 L254.8 322.4 L255.8 321.5 L256.8 320.4 L257.8 319.4 L258.8 318.4 L259.8 317.3 L260.8 316.2 L261.8 315.1 L262.7 314.1 L263.6 313.1 L264.5 312.1 L265.3 311.1 L266.2 310.1 L267.0 309.1 L267.8 308.1 L268.6 307.1 L269.5 306.1 L270.3 305.1 L271.1 304.1 L271.8 303.1 L272.6 302.1 L273.4 301.1 L274.2 300.1 L274.9 299.1 L275.7 298.1 L276.4 297.1 L277.2 296.1 L277.9 295.1 L278.6 294.1 L279.4 293.1 L280.1 292.1 L280.8 291.1 L281.5 290.1 L282.2 289.1 L282.9 288.1 L283.6 287.1 L284.3 286.1 L285.0 285.1 L285.7 284.1 L286.4 283.1 L287.1 282.2 L287.8 281.2 L288.4 280.2 L289.1 279.2 L289.8 278.2 L290.8 276.7 L291.7 275.2 L292.8 273.6 L293.7 272.2 L294.8 270.5 L295.6 269.2 L296.8 267.4 L297.5 266.2 L298.8 264.2 L299.4 263.2 L300.7 261.2 L301.8 259.4 L302.5 258.2 L303.7 256.2 L304.8 254.5 L305.6 253.2 L306.8 251.2 L307.8 249.6 L308.6 248.2 L309.8 246.2 L310.8 244.5 L311.5 243.3 L312.7 241.3 L313.8 239.4 L314.4 238.3 L315.6 236.3 L316.8 234.3 L317.8 232.5 L318.5 231.3 L319.6 229.3 L320.8 227.3 L321.8 225.5 L322.4 224.3 L323.6 222.3 L324.7 220.3 L325.8 218.4 L326.4 217.3 L327.5 215.3 L328.6 213.3 L329.7 211.3 L330.8 209.4 L331.8 207.5 L332.4 206.4 L333.5 204.4 L334.6 202.4 L335.7 200.4 L336.8 198.4 L337.8 196.5 L338.4 195.4 L339.5 193.4 L340.5 191.4 L341.6 189.4 L342.7 187.4 L343.8 185.4 L344.8 183.5 L345.4 182.4 L346.4 180.4 L347.5 178.4 L348.5 176.4 L349.6 174.4 L350.7 172.4 L351.7 170.4 L352.8 168.5 L353.8 166.6 L354.4 165.5 L355.4 163.5 L356.5 161.5 L357.6 159.5 L358.6 157.5 L359.7 155.5 L360.8 153.5 L361.8 151.6 L362.4 150.5 L363.4 148.5 L364.5 146.5 L365.6 144.5 L366.7 142.5 L367.8 140.5 L368.8 138.7 L369.4 137.5 L370.5 135.5 L371.6 133.5 L372.7 131.5 L373.8 129.6 L374.4 128.6 L375.5 126.6 L376.7 124.6 L377.8 122.6 L378.4 121.6 L379.6 119.6 L380.7 117.6 L381.8 115.8 L382.5 114.6 L383.8 112.6 L384.8 110.9 L385.6 109.6 L386.8 107.8 L387.5 106.6 L388.8 104.7 L389.5 103.6 L390.2 102.6 L390.8 101.6 L391.5 100.6 L392.2 99.6 L392.9 98.6 L393.6 97.6 L394.4 96.6 L395.1 95.6 L395.8 94.6 L396.6 93.6 L397.4 92.7 L398.1 91.7 L398.9 90.7 L399.8 89.7 L400.6 88.7 L401.5 87.7 L402.3 86.7 L403.2 85.7 L404.2 84.7 L405.1 83.7 L406.1 82.7 L407.1 81.7 L408.1 80.7 L409.2 79.7 L410.4 78.7 L411.5 77.7 L411.8 79.7 L411.8 81.7 L411.8 83.7 L411.8 85.7 L411.8 87.7 L411.8 89.7 L411.8 91.7 L411.8 93.6 L411.8 95.6 L411.8 97.6 L411.8 99.6 L411.8 101.6 L411.8 103.6 L411.8 105.6 L411.8 107.6 L411.8 109.6 L411.8 111.6 L411.8 113.6 L411.8 115.6 L411.8 117.6 L411.8 119.6 L411.8 121.6 L411.8 123.6 L411.8 125.6 L411.8 127.6 L411.8 129.6 L411.8 131.5 L411.8 133.5 L410.8 134.5 L410.0 135.5 L409.1 136.5 L408.3 137.5 L407.4 138.5 L406.6 139.5 L405.8 140.5 L405.0 141.5 L404.2 142.5 L403.4 143.5 L402.6 144.5 L401.9 145.5 L401.1 146.5 L400.4 147.5 L399.6 148.5 L398.9 149.5 L398.2 150.5 L397.5 151.5 L396.7 152.5 L396.0 153.5 L395.3 154.5 L394.6 155.5 L394.0 156.5 L393.3 157.5 L392.6 158.5 L391.9 159.5 L390.8 161.2 L389.9 162.5 L388.8 164.2 L388.0 165.5 L386.8 167.3 L386.1 168.5 L384.8 170.4 L383.8 172.1 L383.0 173.4 L381.8 175.4 L381.1 176.4 L379.9 178.4 L378.8 180.3 L378.1 181.4 L377.0 183.4 L375.8 185.4 L374.8 187.1 L374.1 188.4 L372.9 190.4 L371.8 192.3 L370.8 194.1 L370.1 195.4 L368.9 197.4 L367.8 199.4 L366.8 201.2 L366.2 202.4 L365.1 204.4 L364.0 206.4 L362.9 208.3 L361.8 210.3 L360.8 212.2 L360.2 213.3 L359.1 215.3 L358.1 217.3 L357.0 219.3 L355.9 221.3 L354.9 223.3 L353.8 225.3 L352.8 227.3 L351.8 229.2 L350.8 231.2 L350.2 232.3 L349.2 234.3 L348.1 236.3 L347.1 238.3 L346.1 240.3 L345.1 242.3 L344.1 244.3 L343.1 246.2 L342.1 248.2 L341.1 250.2 L340.1 252.2 L339.1 254.2 L338.1 256.2 L337.1 258.2 L336.1 260.2 L335.2 262.2 L334.2 264.2 L333.2 266.2 L332.2 268.2 L331.3 270.2 L330.3 272.2 L329.8 273.3 L328.9 275.2 L328.0 277.2 L327.0 279.2 L326.1 281.2 L325.1 283.1 L324.2 285.1 L323.3 287.1 L322.8 288.3 L321.9 290.1 L321.0 292.1 L320.1 294.1 L319.2 296.1 L318.3 298.1 L317.8 299.4 L317.0 301.1 L316.2 303.1 L315.3 305.1 L314.8 306.3 L314.0 308.1 L313.2 310.1 L312.4 312.1 L311.8 313.5 L311.1 315.1 L310.3 317.1 L309.8 318.4 L309.1 320.1 L308.4 322.0 L307.8 323.6 L307.2 325.0 L306.8 326.2 L306.1 328.0 L305.4 330.0 L304.8 331.7 L304.3 333.0 L303.8 334.6 L303.3 336.0 L302.8 337.5 L302.3 339.0 L301.8 340.6 L301.3 342.0 L300.8 343.9 L300.2 346.0 L299.8 347.4 L299.3 349.0 L298.8 351.0 L298.3 353.0 L297.8 355.0 L297.4 357.0 L297.0 358.9 L296.6 360.9 L296.3 362.9 L295.9 364.9 L295.8 366.2 L295.5 367.9 L295.3 369.9 L295.2 371.9 L295.0 373.9 L295.0 375.9 L294.9 377.9 L292.8 377.9 L290.8 377.9 L288.8 377.9 L286.8 377.9 L284.8 377.9 L282.8 377.9 L280.8 377.9 L278.8 377.9 L276.8 377.9 L274.8 377.9 L272.8 377.9 L270.8 377.9 L268.8 377.9 L266.8 377.9 L264.8 377.9 L262.8 377.9 L260.8 377.9 L258.8 377.9 L256.8 377.9 L254.8 377.9 L252.8 377.9 L250.8 377.9 L248.8 377.9 L246.8 377.9 L244.8 377.9 L242.8 377.9 L240.8 377.9 L238.8 377.9 L236.8 377.9 L234.8 377.9 L232.8 377.9 L230.7 377.9 L228.7 377.9 L226.7 377.9 L224.7 377.9 L222.7 377.9 L220.7 377.9 L218.7 377.9 L216.7 377.9 L214.7 377.9 L212.7 377.9 L210.7 377.9 L208.7 377.9 L206.7 377.9 L204.7 377.9 L202.7 377.9 L200.7 377.9 L198.7 377.9 L196.7 377.9 L194.7 377.9 L192.7 377.9 L190.7 377.9 L188.7 377.9 L186.7 377.9 L184.7 377.9 L182.7 377.9 L180.7 377.9 L178.7 377.9 L176.7 377.9 L174.7 377.9 L172.7 377.9 L170.7 377.9 L168.7 377.9 L166.7 377.9 L164.7 377.9 L162.7 377.9 L160.7 377.9 L158.7 377.9 L156.7 377.9 L154.7 377.9 L152.7 377.9 L150.7 377.9 L149.4 377.9 L148.7 376.4 L148.0 374.9 L147.0 372.9 L146.0 370.9 L145.0 368.9 L144.0 366.9 L143.0 364.9 L142.0 362.9 L141.0 360.9 L139.9 358.9 L138.9 357.0 L137.9 355.0 L136.9 353.0 L135.9 351.0 L134.9 349.0 L133.8 347.0 L132.8 345.0 L131.8 343.0 L130.8 341.0 L129.9 339.0 L128.9 337.0 L127.9 335.0 L127.0 333.0 L126.0 331.0 L125.1 329.0 L124.1 327.0 L123.2 325.0 L122.3 323.0 L121.7 321.8 L120.9 320.1 L120.0 318.1 L119.1 316.1 L118.3 314.1 L117.7 312.8 L117.0 311.1 L116.1 309.1 L115.3 307.1 L114.7 305.6 L114.1 304.1 L113.3 302.1 L112.7 300.7 L112.1 299.1 L111.3 297.1 L110.7 295.5 L110.2 294.1 L109.7 292.9 L109.1 291.1 L108.3 289.1 L107.7 287.4 L107.3 286.1 L106.7 284.6 L106.2 283.1 L105.7 281.7 L105.2 280.2 L104.7 278.7 L104.2 277.2 L103.7 275.7 L103.2 274.2 L102.7 272.6 L102.3 271.2 L101.7 269.3 L101.1 267.2 L100.7 266.0 L100.2 264.2 L99.7 262.6 L99.3 261.2 L98.8 259.2 L98.2 257.2 L97.7 255.3 L97.2 253.2 L96.7 251.5 L96.4 250.2 L95.9 248.2 L95.4 246.2 L94.9 244.3 L94.5 242.3 L94.0 240.3 L93.7 238.9 L93.4 237.3 L92.9 235.3 L92.5 233.3 L92.1 231.3 L91.7 229.3 L91.3 227.3 L90.9 225.3 L90.7 224.0 L90.4 222.3 L90.0 220.3 L89.7 218.3 L89.4 216.3 L89.1 214.3 L88.7 212.3 L88.4 210.3 L88.2 208.3 L87.9 206.4 L87.6 204.4 L87.3 202.4 L87.1 200.4 L86.8 198.4 L86.6 196.4 L86.4 194.4 L86.2 192.4 L86.0 190.4 L85.8 188.4 L85.6 186.4 L85.4 184.4 L85.2 182.4 L85.1 180.4 L84.9 178.4 L84.8 176.4 L84.7 174.4 L84.5 172.4 L84.4 170.4 L84.3 168.5 L84.2 166.5 L84.1 164.5 L84.0 162.5 L84.0 160.5 L83.9 158.5 L83.9 156.5 L83.8 154.5 L83.8 152.5 L83.7 150.5 L83.7 148.5 L83.7 146.5 L83.7 144.5 L83.7 142.5 L83.7 140.5 L83.8 138.5 L83.8 136.5 L83.8 134.5 L83.9 132.5 L83.9 130.6 L84.0 128.6 L84.1 126.6 L84.1 124.6 L84.2 122.6 L84.3 120.6 L84.4 118.6 L84.5 116.6 L84.6 114.6 L84.8 112.6 L84.9 110.6 L85.0 108.6 L85.2 106.6 L85.4 104.6 L85.5 102.6 L85.7 100.6 L85.9 98.6 L86.1 96.6 L86.2 94.6 L86.5 92.7 L86.7 90.7 L86.9 88.7 L87.1 86.7 L87.3 84.7 L87.6 82.7 L87.8 80.7 L88.1 78.7 L88.3 76.7 L88.6 74.7 L88.7 73.9Z" fill="#f4cdd2" stroke="#f4cdd2" stroke-width="0.6" fill-rule="evenodd"/>
<path d="M107.7 73.7 L109.7 73.7 L111.7 73.7 L113.7 73.7 L115.7 73.7 L117.7 73.7 L119.7 73.7 L121.7 73.7 L123.7 73.7 L125.7 73.7 L127.7 73.7 L129.7 73.7 L130.6 74.7 L130.1 76.7 L129.7 78.2 L129.4 79.7 L128.9 81.7 L128.5 83.7 L128.1 85.7 L127.7 87.4 L127.5 88.7 L127.1 90.7 L126.8 92.7 L126.4 94.6 L126.1 96.6 L125.8 98.6 L125.5 100.6 L125.2 102.6 L125.0 104.6 L124.7 106.6 L124.5 108.6 L124.3 110.6 L124.1 112.6 L123.9 114.6 L123.8 116.6 L123.6 118.6 L123.5 120.6 L123.4 122.6 L123.3 124.6 L123.2 126.6 L123.1 128.6 L123.1 130.6 L123.0 132.5 L123.0 134.5 L123.0 136.5 L123.0 138.5 L123.0 140.5 L123.1 142.5 L123.1 144.5 L123.2 146.5 L123.3 148.5 L123.4 150.5 L123.5 152.5 L123.7 154.5 L123.8 156.5 L124.0 158.5 L124.2 160.5 L124.4 162.5 L124.6 164.5 L124.8 166.5 L125.1 168.5 L125.4 170.4 L125.7 172.4 L126.0 174.4 L126.3 176.4 L126.6 178.4 L127.0 180.4 L127.4 182.4 L127.7 184.1 L128.0 185.4 L128.4 187.4 L128.7 188.7 L129.1 190.4 L129.6 192.4 L130.1 194.4 L130.6 196.4 L131.2 198.4 L131.7 200.4 L132.3 202.4 L132.7 203.7 L133.2 205.4 L133.7 206.8 L134.2 208.3 L134.7 209.8 L135.3 211.3 L135.7 212.6 L136.4 214.3 L137.1 216.3 L137.7 217.8 L138.4 219.3 L139.2 221.3 L139.7 222.5 L140.5 224.3 L141.4 226.3 L142.4 228.3 L143.4 230.3 L144.4 232.3 L145.5 234.3 L146.6 236.3 L147.7 238.2 L148.4 239.3 L149.6 241.3 L150.7 243.1 L151.5 244.3 L152.2 245.2 L152.9 246.2 L153.6 247.2 L154.3 248.2 L155.0 249.2 L155.8 250.2 L156.5 251.2 L157.3 252.2 L158.1 253.2 L158.9 254.2 L159.7 255.1 L160.7 256.2 L161.6 257.2 L162.5 258.2 L163.4 259.2 L164.4 260.2 L165.4 261.2 L166.4 262.2 L167.5 263.2 L168.6 264.2 L169.7 265.2 L170.7 266.0 L171.7 266.9 L172.7 267.6 L173.7 268.4 L174.7 269.1 L175.7 269.8 L176.7 270.5 L178.7 271.8 L180.7 273.0 L182.7 274.1 L184.7 275.1 L186.7 276.0 L188.7 276.9 L190.7 277.6 L192.4 278.2 L193.7 278.5 L195.7 279.1 L197.7 279.5 L199.7 279.9 L201.7 280.2 L203.7 280.3 L205.7 280.5 L207.7 280.5 L209.7 280.4 L211.7 280.3 L213.4 280.2 L214.7 280.0 L216.7 279.7 L218.7 279.3 L220.7 278.8 L222.7 278.2 L224.7 277.6 L226.0 277.2 L227.7 276.5 L229.7 275.7 L230.9 275.2 L232.8 274.3 L234.8 273.3 L236.8 272.2 L238.5 271.2 L239.8 270.4 L241.7 269.2 L242.8 268.5 L243.8 267.8 L244.8 267.1 L245.8 266.4 L246.8 265.7 L247.8 264.9 L248.8 264.1 L249.8 263.4 L250.8 262.6 L251.8 261.7 L252.8 260.9 L253.8 260.0 L254.7 259.2 L255.8 258.2 L256.8 257.3 L257.8 256.4 L258.8 255.5 L259.8 254.5 L260.8 253.5 L261.8 252.5 L262.8 251.5 L263.8 250.5 L264.8 249.4 L265.8 248.3 L266.8 247.2 L267.7 246.2 L268.6 245.2 L269.4 244.3 L270.3 243.3 L271.2 242.3 L272.0 241.3 L272.9 240.3 L273.7 239.3 L274.5 238.3 L275.3 237.3 L276.1 236.3 L276.9 235.3 L277.7 234.3 L278.5 233.3 L279.2 232.3 L280.0 231.3 L280.8 230.3 L281.5 229.3 L282.3 228.3 L283.0 227.3 L283.7 226.3 L284.4 225.3 L285.2 224.3 L285.9 223.3 L286.6 222.3 L287.3 221.3 L288.0 220.3 L288.7 219.3 L289.3 218.3 L290.0 217.3 L290.7 216.3 L291.8 214.7 L292.7 213.3 L293.8 211.7 L294.6 210.3 L295.8 208.6 L296.5 207.3 L297.8 205.4 L298.4 204.4 L299.6 202.4 L300.8 200.5 L301.4 199.4 L302.6 197.4 L303.8 195.4 L304.4 194.4 L305.5 192.4 L306.7 190.4 L307.8 188.5 L308.4 187.4 L309.5 185.4 L310.6 183.4 L311.7 181.4 L312.7 179.4 L313.8 177.5 L314.8 175.6 L315.4 174.4 L316.4 172.4 L317.4 170.4 L318.4 168.5 L319.4 166.5 L320.4 164.5 L321.4 162.5 L322.3 160.5 L323.3 158.5 L324.3 156.5 L324.8 155.4 L325.6 153.5 L326.6 151.5 L327.5 149.5 L328.4 147.5 L329.3 145.5 L329.8 144.3 L330.6 142.5 L331.4 140.5 L332.3 138.5 L332.8 137.4 L333.5 135.5 L334.4 133.5 L335.2 131.5 L335.8 130.1 L336.4 128.6 L337.2 126.6 L337.8 125.0 L338.3 123.6 L338.8 122.4 L339.5 120.6 L340.2 118.6 L340.8 117.0 L341.3 115.6 L341.8 114.2 L342.4 112.6 L342.8 111.4 L343.4 109.6 L343.8 108.5 L344.4 106.6 L344.8 105.4 L345.4 103.6 L345.8 102.3 L346.3 100.6 L346.8 99.1 L347.2 97.6 L347.8 95.7 L348.4 93.6 L348.8 92.2 L349.2 90.7 L349.7 88.7 L350.2 86.7 L350.7 84.7 L351.2 82.7 L351.7 80.7 L352.1 78.7 L352.5 76.7 L352.8 75.2 L353.1 73.7 L354.8 73.7 L356.8 73.7 L358.8 73.7 L360.8 73.7 L362.8 73.7 L364.8 73.7 L366.8 73.7 L368.8 73.7 L370.8 73.7 L372.8 73.7 L374.8 73.7 L376.8 73.7 L378.8 73.7 L380.8 73.7 L382.8 73.7 L384.8 73.7 L386.8 73.7 L388.8 73.7 L390.8 73.7 L392.8 73.7 L394.8 73.7 L396.8 73.7 L398.8 73.7 L400.8 73.7 L402.8 73.7 L404.8 73.7 L406.8 73.7 L408.8 73.7 L410.8 73.7 L411.8 74.7 L411.8 76.7 L410.8 78.3 L409.8 79.2 L408.8 80.1 L407.8 81.0 L406.8 82.0 L405.8 83.0 L404.8 84.0 L403.8 85.1 L402.8 86.1 L401.8 87.3 L400.8 88.4 L399.8 89.6 L398.9 90.7 L398.1 91.7 L397.4 92.7 L396.6 93.6 L395.8 94.6 L395.1 95.6 L394.4 96.6 L393.6 97.6 L392.9 98.6 L392.2 99.6 L391.5 100.6 L390.8 101.6 L390.2 102.6 L389.5 103.6 L388.8 104.7 L387.8 106.2 L386.9 107.6 L385.8 109.3 L385.0 110.6 L383.8 112.5 L383.1 113.6 L381.9 115.6 L380.8 117.5 L380.1 118.6 L379.0 120.6 L377.8 122.6 L376.8 124.3 L376.1 125.6 L375.0 127.6 L373.8 129.6 L372.8 131.4 L372.2 132.5 L371.1 134.5 L370.0 136.5 L368.9 138.5 L367.8 140.5 L366.8 142.3 L366.1 143.5 L365.1 145.5 L364.0 147.5 L362.9 149.5 L361.8 151.5 L360.8 153.5 L359.8 155.3 L359.2 156.5 L358.1 158.5 L357.0 160.5 L356.0 162.5 L354.9 164.5 L353.9 166.5 L352.8 168.5 L351.8 170.4 L351.2 171.4 L350.1 173.4 L349.1 175.4 L348.0 177.4 L347.0 179.4 L345.9 181.4 L344.8 183.4 L343.8 185.4 L342.8 187.2 L342.2 188.4 L341.1 190.4 L340.0 192.4 L338.9 194.4 L337.9 196.4 L336.8 198.4 L335.8 200.2 L335.1 201.4 L334.1 203.4 L333.0 205.4 L331.9 207.3 L330.8 209.3 L329.8 211.2 L329.1 212.3 L328.0 214.3 L326.9 216.3 L325.8 218.3 L324.8 220.2 L324.1 221.3 L323.0 223.3 L321.9 225.3 L320.8 227.3 L319.8 229.0 L319.0 230.3 L317.9 232.3 L316.8 234.3 L315.8 236.0 L315.0 237.3 L313.9 239.3 L312.8 241.1 L312.1 242.3 L310.9 244.3 L309.8 246.2 L308.8 247.9 L308.0 249.2 L306.8 251.2 L305.8 252.9 L305.0 254.2 L303.8 256.2 L303.1 257.2 L301.9 259.2 L300.8 261.0 L300.0 262.2 L298.8 264.2 L297.8 265.8 L296.9 267.2 L295.8 269.0 L295.0 270.2 L293.8 272.1 L293.0 273.2 L291.8 275.1 L291.1 276.2 L289.8 278.2 L289.1 279.2 L288.4 280.2 L287.8 281.2 L287.1 282.2 L286.4 283.1 L285.7 284.1 L285.0 285.1 L284.3 286.1 L283.6 287.1 L282.9 288.1 L282.2 289.1 L281.5 290.1 L280.8 291.1 L280.1 292.1 L279.4 293.1 L278.6 294.1 L277.9 295.1 L277.2 296.1 L276.4 297.1 L275.7 298.1 L274.9 299.1 L274.2 300.1 L273.4 301.1 L272.6 302.1 L271.8 303.1 L271.1 304.1 L270.3 305.1 L269.5 306.1 L268.6 307.1 L267.8 308.1 L267.0 309.1 L266.2 310.1 L265.3 311.1 L264.5 312.1 L263.6 313.1 L262.8 314.0 L261.8 315.1 L260.9 316.1 L260.0 317.1 L259.1 318.1 L258.1 319.1 L257.1 320.1 L256.2 321.0 L255.2 322.0 L254.1 323.0 L253.1 324.0 L252.0 325.0 L250.9 326.0 L249.8 327.0 L248.8 327.9 L247.8 328.8 L246.8 329.6 L245.8 330.4 L244.8 331.2 L243.8 332.0 L242.8 332.7 L241.8 333.4 L240.8 334.1 L239.8 334.8 L237.8 336.0 L236.1 337.0 L234.8 337.7 L232.8 338.8 L230.7 339.7 L228.7 340.5 L227.5 341.0 L225.7 341.6 L224.5 342.0 L222.7 342.5 L220.7 342.9 L218.7 343.3 L216.7 343.5 L214.7 343.7 L212.7 343.7 L210.7 343.7 L208.7 343.6 L206.7 343.4 L204.7 343.1 L202.7 342.7 L200.7 342.3 L198.7 341.7 L196.7 341.1 L194.7 340.4 L192.7 339.6 L191.4 339.0 L189.7 338.3 L187.7 337.3 L185.7 336.2 L183.7 335.1 L182.0 334.0 L180.7 333.2 L179.0 332.0 L177.7 331.2 L176.7 330.4 L175.7 329.7 L174.7 329.0 L173.7 328.2 L172.7 327.4 L171.7 326.6 L170.7 325.7 L169.7 324.9 L168.8 324.0 L167.7 323.1 L166.7 322.2 L165.7 321.3 L164.7 320.3 L163.7 319.4 L162.7 318.4 L161.7 317.3 L160.7 316.3 L159.7 315.3 L158.7 314.2 L157.7 313.1 L156.8 312.1 L156.0 311.1 L155.1 310.1 L154.3 309.1 L153.4 308.1 L152.6 307.1 L151.8 306.1 L151.0 305.1 L150.3 304.1 L149.5 303.1 L148.7 302.1 L148.0 301.1 L147.3 300.1 L146.5 299.1 L145.8 298.1 L145.1 297.1 L144.4 296.1 L143.7 295.1 L143.1 294.1 L141.8 292.1 L140.7 290.5 L139.8 289.1 L138.7 287.3 L138.0 286.1 L136.8 284.1 L135.7 282.3 L135.1 281.2 L134.0 279.2 L132.9 277.2 L131.8 275.2 L130.8 273.2 L129.8 271.2 L128.8 269.2 L127.9 267.2 L126.9 265.2 L126.0 263.2 L125.1 261.2 L124.3 259.2 L123.7 257.9 L123.0 256.2 L122.2 254.2 L121.7 253.0 L121.0 251.2 L120.3 249.2 L119.7 247.8 L119.2 246.2 L118.7 245.0 L118.1 243.3 L117.4 241.3 L116.7 239.3 L116.1 237.3 L115.4 235.3 L114.8 233.3 L114.2 231.3 L113.7 229.6 L113.4 228.3 L112.8 226.3 L112.2 224.3 L111.7 222.3 L111.2 220.3 L110.7 218.4 L110.2 216.3 L109.7 214.3 L109.3 212.3 L108.9 210.3 L108.4 208.3 L108.0 206.4 L107.7 204.8 L107.4 203.4 L107.1 201.4 L106.7 199.5 L106.3 197.4 L106.0 195.4 L105.7 193.6 L105.5 192.4 L105.2 190.4 L104.9 188.4 L104.7 186.8 L104.5 185.4 L104.3 183.4 L104.0 181.4 L103.8 179.4 L103.6 177.4 L103.4 175.4 L103.2 173.4 L103.0 171.4 L102.8 169.4 L102.6 167.5 L102.5 165.5 L102.4 163.5 L102.2 161.5 L102.1 159.5 L102.0 157.5 L101.9 155.5 L101.8 153.5 L101.8 151.5 L101.7 149.5 L101.7 147.5 L101.6 145.5 L101.6 143.5 L101.6 141.5 L101.6 139.5 L101.6 137.5 L101.6 135.5 L101.7 133.5 L101.7 131.5 L101.8 129.6 L101.8 127.6 L101.9 125.6 L102.0 123.6 L102.1 121.6 L102.2 119.6 L102.3 117.6 L102.5 115.6 L102.6 113.6 L102.7 112.0 L102.8 110.6 L103.0 108.6 L103.2 106.6 L103.4 104.6 L103.6 102.6 L103.7 101.2 L103.9 99.6 L104.1 97.6 L104.4 95.6 L104.6 93.6 L104.9 91.7 L105.1 89.7 L105.4 87.7 L105.7 85.7 L106.0 83.7 L106.3 81.7 L106.7 79.7 L107.0 77.7 L107.4 75.7 L107.7 73.7Z" fill="#fbd9ca" stroke="#fbd9ca" stroke-width="0.6" fill-rule="evenodd"/>
<path d="M130.7 74.2 L132.7 73.7 L134.7 73.7 L136.7 73.7 L138.7 73.7 L140.7 73.7 L142.7 73.7 L144.7 73.7 L146.7 73.7 L148.7 73.7 L150.7 73.7 L152.7 73.7 L154.7 73.7 L156.7 73.7 L158.7 73.7 L160.7 73.7 L162.7 73.7 L162.7 75.0 L162.0 76.7 L161.2 78.7 L160.7 80.0 L160.1 81.7 L159.4 83.7 L158.7 85.7 L158.1 87.7 L157.7 88.9 L157.2 90.7 L156.7 92.4 L156.4 93.6 L155.9 95.6 L155.4 97.6 L155.0 99.6 L154.7 100.9 L154.4 102.6 L154.0 104.6 L153.7 106.3 L153.5 107.6 L153.2 109.6 L153.0 111.6 L152.7 113.4 L152.5 115.6 L152.3 117.6 L152.1 119.6 L152.0 121.6 L151.9 123.6 L151.8 125.6 L151.7 127.4 L151.7 129.6 L151.7 131.5 L151.7 133.5 L151.7 135.4 L151.8 137.5 L151.9 139.5 L152.0 141.5 L152.2 143.5 L152.3 145.5 L152.5 147.5 L152.7 149.2 L152.9 150.5 L153.2 152.5 L153.5 154.5 L153.7 156.1 L154.0 157.5 L154.3 159.5 L154.7 161.4 L155.2 163.5 L155.7 165.5 L156.2 167.5 L156.7 169.4 L157.3 171.4 L157.7 172.9 L158.2 174.4 L158.7 175.9 L159.3 177.4 L159.7 178.7 L160.4 180.4 L161.2 182.4 L161.7 183.6 L162.5 185.4 L163.5 187.4 L164.4 189.4 L165.5 191.4 L166.6 193.4 L167.7 195.2 L168.5 196.4 L169.7 198.3 L170.5 199.4 L171.2 200.4 L171.9 201.4 L172.7 202.4 L173.5 203.4 L174.3 204.4 L175.2 205.4 L176.1 206.4 L177.0 207.3 L178.0 208.3 L179.1 209.3 L180.2 210.3 L181.3 211.3 L182.5 212.3 L183.7 213.3 L184.7 214.0 L185.7 214.7 L187.7 216.0 L189.7 217.1 L191.7 218.1 L193.7 219.0 L195.7 219.8 L197.5 220.3 L198.7 220.7 L200.7 221.2 L202.7 221.5 L204.7 221.8 L206.7 222.0 L208.7 222.0 L210.7 222.0 L212.7 221.9 L214.7 221.7 L216.7 221.4 L218.7 220.9 L220.7 220.4 L222.7 219.9 L224.4 219.3 L225.7 218.8 L227.0 218.3 L228.7 217.6 L230.7 216.6 L232.8 215.6 L234.8 214.4 L236.6 213.3 L237.8 212.6 L239.6 211.3 L240.8 210.5 L241.8 209.8 L242.8 209.1 L243.8 208.3 L244.8 207.5 L245.8 206.7 L246.8 205.8 L247.8 205.0 L248.8 204.1 L249.8 203.2 L250.8 202.2 L251.7 201.4 L252.7 200.4 L253.7 199.4 L254.7 198.4 L255.6 197.4 L256.5 196.4 L257.4 195.4 L258.3 194.4 L259.2 193.4 L260.1 192.4 L260.9 191.4 L261.7 190.4 L262.5 189.4 L263.3 188.4 L264.1 187.4 L264.9 186.4 L265.7 185.4 L266.4 184.4 L267.1 183.4 L267.9 182.4 L268.6 181.4 L269.3 180.4 L270.0 179.4 L270.7 178.4 L271.3 177.4 L272.6 175.4 L273.8 173.7 L274.5 172.4 L275.8 170.4 L276.8 168.8 L277.5 167.5 L278.7 165.5 L279.8 163.5 L280.8 161.7 L281.4 160.5 L282.4 158.5 L283.4 156.5 L284.4 154.5 L285.4 152.5 L286.3 150.5 L287.2 148.5 L287.8 147.2 L288.5 145.5 L289.3 143.5 L290.2 141.5 L290.8 140.0 L291.3 138.5 L291.8 137.3 L292.4 135.5 L293.1 133.5 L293.8 131.7 L294.5 129.6 L295.1 127.6 L295.7 125.6 L296.3 123.6 L296.8 121.7 L297.3 119.6 L297.8 117.7 L298.3 115.6 L298.7 113.6 L299.1 111.6 L299.4 109.6 L299.8 107.7 L300.1 105.6 L300.3 103.6 L300.6 101.6 L300.8 99.8 L300.9 97.6 L301.1 95.6 L301.1 93.6 L301.2 91.7 L301.2 89.7 L301.2 87.7 L301.1 85.7 L300.9 83.7 L300.8 81.9 L300.6 80.7 L300.4 78.7 L300.0 76.7 L299.8 75.2 L299.5 73.7 L300.8 73.7 L302.8 73.7 L304.8 73.7 L306.8 73.7 L308.8 73.7 L310.8 73.7 L312.8 73.7 L314.8 73.7 L316.8 73.7 L318.8 73.7 L320.8 73.7 L322.8 73.7 L324.8 73.7 L326.8 73.7 L328.8 73.7 L330.8 73.7 L332.8 73.7 L334.8 73.7 L336.8 73.7 L338.8 73.7 L340.8 73.7 L342.8 73.7 L344.8 73.7 L346.8 73.7 L348.8 73.7 L350.8 73.7 L352.8 73.7 L352.8 75.2 L352.5 76.7 L352.1 78.7 L351.8 80.1 L351.4 81.7 L351.0 83.7 L350.5 85.7 L350.0 87.7 L349.5 89.7 L348.9 91.7 L348.4 93.6 L347.8 95.6 L347.2 97.6 L346.8 99.1 L346.3 100.6 L345.8 102.3 L345.4 103.6 L344.8 105.4 L344.4 106.6 L343.8 108.5 L343.4 109.6 L342.8 111.4 L342.4 112.6 L341.8 114.2 L341.3 115.6 L340.8 117.0 L340.2 118.6 L339.8 119.7 L339.1 121.6 L338.3 123.6 L337.8 125.0 L337.2 126.6 L336.4 128.6 L335.8 130.1 L335.2 131.5 L334.4 133.5 L333.8 135.0 L333.1 136.5 L332.3 138.5 L331.8 139.7 L331.0 141.5 L330.1 143.5 L329.3 145.5 L328.4 147.5 L327.8 148.8 L327.0 150.5 L326.1 152.5 L325.2 154.5 L324.3 156.5 L323.3 158.5 L322.8 159.6 L321.9 161.5 L320.9 163.5 L319.9 165.5 L318.9 167.5 L317.9 169.4 L316.9 171.4 L315.9 173.4 L314.8 175.4 L313.8 177.4 L312.8 179.3 L312.2 180.4 L311.1 182.4 L310.0 184.4 L308.9 186.4 L307.8 188.4 L306.8 190.2 L306.1 191.4 L305.0 193.4 L303.8 195.4 L302.8 197.1 L302.0 198.4 L300.8 200.4 L299.8 202.1 L299.0 203.4 L297.8 205.4 L296.8 207.0 L295.9 208.3 L294.8 210.1 L294.0 211.3 L292.8 213.2 L292.0 214.3 L290.8 216.2 L290.0 217.3 L289.3 218.3 L288.7 219.3 L288.0 220.3 L287.3 221.3 L286.6 222.3 L285.9 223.3 L285.2 224.3 L284.4 225.3 L283.7 226.3 L283.0 227.3 L282.3 228.3 L281.5 229.3 L280.8 230.3 L280.0 231.3 L279.2 232.3 L278.5 233.3 L277.7 234.3 L276.9 235.3 L276.1 236.3 L275.3 237.3 L274.5 238.3 L273.7 239.3 L272.9 240.3 L272.0 241.3 L271.2 242.3 L270.3 243.3 L269.4 244.3 L268.6 245.2 L267.7 246.2 L266.8 247.2 L265.8 248.2 L264.9 249.2 L264.0 250.2 L263.0 251.2 L262.0 252.2 L261.0 253.2 L260.0 254.2 L259.0 255.2 L257.9 256.2 L256.9 257.2 L255.8 258.2 L254.8 259.1 L253.8 260.0 L252.8 260.9 L251.8 261.7 L250.8 262.6 L249.8 263.4 L248.8 264.1 L247.8 264.9 L246.8 265.7 L245.8 266.4 L244.8 267.1 L243.8 267.8 L242.8 268.5 L241.8 269.2 L240.2 270.2 L238.8 271.1 L236.8 272.2 L235.8 272.8 L233.8 273.8 L231.7 274.8 L229.7 275.7 L228.6 276.2 L226.7 276.9 L224.7 277.6 L223.0 278.2 L221.7 278.5 L219.7 279.0 L217.7 279.5 L215.7 279.8 L213.7 280.1 L211.7 280.3 L209.7 280.4 L207.7 280.5 L205.7 280.5 L203.7 280.3 L201.8 280.2 L199.7 279.9 L197.7 279.5 L196.1 279.2 L194.7 278.8 L192.7 278.3 L190.7 277.6 L189.5 277.2 L187.7 276.5 L185.7 275.6 L183.7 274.6 L181.7 273.6 L179.7 272.4 L177.7 271.2 L176.2 270.2 L174.8 269.2 L173.7 268.4 L172.7 267.6 L171.7 266.9 L170.7 266.0 L169.7 265.2 L168.7 264.3 L167.7 263.4 L166.7 262.5 L165.7 261.5 L164.7 260.6 L163.7 259.5 L162.7 258.5 L161.7 257.4 L160.7 256.3 L159.8 255.2 L158.9 254.2 L158.1 253.2 L157.3 252.2 L156.5 251.2 L155.8 250.2 L155.0 249.2 L154.3 248.2 L153.6 247.2 L152.9 246.2 L152.2 245.2 L151.5 244.3 L150.7 243.1 L149.7 241.5 L149.0 240.3 L147.8 238.3 L146.7 236.5 L146.0 235.3 L145.0 233.3 L143.9 231.3 L142.9 229.3 L141.9 227.3 L141.0 225.3 L140.1 223.3 L139.2 221.3 L138.7 220.2 L137.9 218.3 L137.1 216.3 L136.4 214.3 L135.7 212.6 L135.3 211.3 L134.7 209.8 L134.2 208.3 L133.7 206.8 L133.2 205.4 L132.7 203.7 L132.3 202.4 L131.7 200.4 L131.2 198.4 L130.7 196.8 L130.3 195.4 L129.8 193.4 L129.3 191.4 L128.9 189.4 L128.4 187.4 L128.0 185.4 L127.7 184.1 L127.4 182.4 L127.0 180.4 L126.7 178.9 L126.5 177.4 L126.1 175.4 L125.8 173.4 L125.5 171.4 L125.2 169.4 L125.0 167.5 L124.7 165.5 L124.5 163.5 L124.3 161.5 L124.1 159.5 L123.9 157.5 L123.7 155.5 L123.6 153.5 L123.5 151.5 L123.4 149.5 L123.3 147.5 L123.2 145.5 L123.1 143.5 L123.1 141.5 L123.0 139.5 L123.0 137.5 L123.0 135.5 L123.0 133.5 L123.1 131.5 L123.1 129.6 L123.2 127.6 L123.2 125.6 L123.3 123.6 L123.4 121.6 L123.6 119.6 L123.7 117.6 L123.8 115.6 L124.0 113.6 L124.2 111.6 L124.4 109.6 L124.6 107.6 L124.8 105.6 L125.1 103.6 L125.4 101.6 L125.6 99.6 L125.9 97.6 L126.3 95.6 L126.6 93.6 L126.9 91.7 L127.3 89.7 L127.7 87.7 L128.1 85.7 L128.5 83.7 L128.9 81.7 L129.4 79.7 L129.7 78.2 L130.1 76.7 L130.6 74.7 L130.7 74.2Z" fill="#fee6c2" stroke="#fee6c2" stroke-width="0.6" fill-rule="evenodd"/>
<path d="M163.7 73.7 L165.7 73.7 L167.7 73.7 L169.7 73.7 L171.7 73.7 L173.7 73.7 L175.7 73.7 L177.7 73.7 L179.7 73.7 L181.7 73.7 L183.7 73.7 L185.7 73.7 L187.7 73.7 L189.7 73.7 L191.7 73.7 L193.7 73.7 L195.7 73.7 L197.7 73.7 L199.7 73.7 L201.7 73.7 L203.7 73.7 L205.7 73.7 L207.7 73.7 L209.7 73.7 L211.7 73.7 L213.7 73.7 L215.7 73.7 L217.7 73.7 L219.7 73.7 L221.7 73.7 L223.7 73.7 L225.7 73.7 L227.7 73.7 L229.7 73.7 L231.7 73.7 L233.8 73.7 L235.8 73.7 L237.8 73.7 L239.8 73.7 L241.8 73.7 L243.8 73.7 L245.8 73.7 L247.8 73.7 L249.8 73.7 L251.8 73.7 L253.8 73.7 L255.8 73.7 L257.8 73.7 L259.8 73.7 L261.8 73.7 L263.8 73.7 L265.8 73.7 L267.8 73.7 L269.8 73.7 L271.8 73.7 L273.8 73.7 L275.8 73.7 L277.8 73.7 L279.8 73.7 L281.8 73.7 L283.8 73.7 L285.8 73.7 L287.8 73.7 L289.8 73.7 L291.8 73.7 L293.8 73.7 L295.8 73.7 L297.8 73.7 L299.5 73.7 L299.8 75.2 L300.0 76.7 L300.4 78.7 L300.6 80.7 L300.8 81.9 L300.9 83.7 L301.1 85.7 L301.2 87.7 L301.2 89.7 L301.2 91.7 L301.1 93.6 L301.1 95.6 L300.9 97.6 L300.8 99.6 L300.6 101.6 L300.3 103.6 L300.1 105.6 L299.8 107.6 L299.4 109.6 L299.1 111.6 L298.8 113.2 L298.5 114.6 L298.0 116.6 L297.6 118.6 L297.1 120.6 L296.5 122.6 L296.0 124.6 L295.4 126.6 L294.8 128.6 L294.1 130.6 L293.5 132.5 L292.8 134.5 L292.1 136.5 L291.3 138.5 L290.8 140.0 L290.2 141.5 L289.3 143.5 L288.8 144.9 L288.1 146.5 L287.2 148.5 L286.3 150.5 L285.8 151.7 L284.9 153.5 L283.9 155.5 L282.9 157.5 L281.9 159.5 L280.9 161.5 L279.8 163.5 L278.8 165.3 L278.1 166.5 L277.0 168.5 L275.8 170.4 L274.8 172.1 L273.9 173.4 L272.8 175.2 L272.0 176.4 L270.8 178.3 L270.0 179.4 L269.3 180.4 L268.6 181.4 L267.9 182.4 L267.1 183.4 L266.4 184.4 L265.7 185.4 L264.9 186.4 L264.1 187.4 L263.3 188.4 L262.5 189.4 L261.8 190.4 L260.9 191.4 L260.1 192.4 L259.2 193.4 L258.3 194.4 L257.4 195.4 L256.5 196.4 L255.6 197.4 L254.8 198.3 L253.8 199.3 L252.8 200.3 L251.8 201.3 L250.8 202.2 L249.8 203.2 L248.8 204.1 L247.8 205.0 L246.8 205.8 L245.8 206.7 L244.8 207.5 L243.8 208.3 L242.8 209.1 L241.8 209.8 L240.8 210.5 L239.8 211.3 L238.8 211.9 L236.8 213.2 L234.9 214.3 L233.8 215.0 L231.7 216.1 L229.7 217.1 L227.7 218.0 L225.7 218.8 L224.4 219.3 L222.7 219.9 L221.2 220.3 L219.7 220.7 L217.7 221.2 L215.7 221.5 L213.7 221.8 L211.7 222.0 L209.7 222.0 L207.7 222.0 L205.7 221.9 L203.7 221.7 L201.7 221.4 L199.7 220.9 L197.7 220.4 L195.7 219.8 L194.6 219.3 L192.7 218.6 L190.7 217.6 L188.7 216.5 L186.7 215.3 L185.2 214.3 L183.8 213.3 L182.7 212.5 L181.7 211.7 L180.7 210.9 L179.7 210.0 L178.7 209.0 L177.7 208.1 L176.7 207.0 L175.7 206.0 L174.7 204.8 L173.7 203.6 L172.7 202.4 L171.9 201.4 L171.2 200.4 L170.5 199.4 L169.8 198.4 L169.1 197.4 L167.8 195.4 L166.7 193.6 L166.1 192.4 L165.0 190.4 L163.9 188.4 L163.0 186.4 L162.1 184.4 L161.2 182.4 L160.7 181.3 L160.0 179.4 L159.3 177.4 L158.7 175.9 L158.2 174.4 L157.7 172.9 L157.3 171.4 L156.7 169.5 L156.2 167.5 L155.7 165.7 L155.4 164.5 L155.0 162.5 L154.5 160.5 L154.2 158.5 L153.8 156.5 L153.5 154.5 L153.2 152.5 L152.9 150.5 L152.7 149.2 L152.5 147.5 L152.3 145.5 L152.2 143.5 L152.0 141.5 L151.9 139.5 L151.8 137.5 L151.7 135.5 L151.7 133.5 L151.7 131.5 L151.7 129.6 L151.7 127.6 L151.8 125.6 L151.9 123.6 L152.0 121.6 L152.1 119.6 L152.3 117.6 L152.5 115.6 L152.7 113.6 L153.0 111.6 L153.2 109.6 L153.5 107.6 L153.7 106.3 L154.0 104.6 L154.4 102.6 L154.7 100.9 L155.0 99.6 L155.4 97.6 L155.7 96.4 L156.2 94.6 L156.7 92.7 L157.2 90.7 L157.7 88.9 L158.1 87.7 L158.7 85.7 L159.4 83.7 L160.1 81.7 L160.7 80.0 L161.2 78.7 L161.7 77.4 L162.4 75.7 L163.3 73.7 L163.7 73.7Z" fill="#fdf5be" stroke="#fdf5be" stroke-width="0.6" fill-rule="evenodd"/>
<path d="M53.0 377.9 L53.1 375.9 L53.1 373.9 L53.1 371.9 L53.0 369.9 L53.0 367.9 L53.0 365.9 L52.9 363.9 L52.9 361.9 L52.8 359.9 L52.7 358.0 L52.7 357.9" fill="none" stroke="#4c02a1" stroke-width="2.1" stroke-linejoin="round"/>
<path d="M411.8 232.2 L408.5 238.3 L404.8 245.5 L401.6 252.2 L398.5 259.2 L395.6 266.2 L392.8 273.4 L390.4 280.2 L388.2 287.1 L386.2 294.1 L384.4 301.1 L383.2 307.1 L382.1 313.1 L381.2 319.1 L380.6 325.0 L380.2 331.0 L380.1 336.0 L380.2 341.0 L380.5 346.0 L381.1 351.0 L381.9 356.0 L382.9 360.9 L384.0 364.9 L385.2 368.9 L386.8 373.1 L388.4 376.9 L388.8 377.9 M78.7 377.9 L77.7 368.9 L76.4 358.9 L74.3 346.0 L71.3 328.0 L65.0 291.1 L62.6 275.2 L60.5 260.2 L58.8 246.2 L57.4 233.3 L56.2 220.3 L55.3 207.3 L54.5 194.4 L54.0 181.4 L53.7 168.5 L53.6 155.5 L53.8 141.5 L54.2 127.6 L54.8 112.6 L55.7 96.6 L56.9 78.7 L57.3 73.7" fill="none" stroke="#7e03a8" stroke-width="2.1" stroke-linejoin="round"/>
<path d="M411.8 181.3 L407.4 187.4 L402.7 194.4 L397.8 202.0 L393.3 209.3 L388.7 217.3 L383.8 226.4 L378.8 236.0 L374.3 245.2 L369.6 255.2 L365.7 264.2 L361.8 273.6 L358.5 282.2 L355.3 291.1 L352.6 299.1 L350.2 307.1 L348.4 314.1 L346.7 321.0 L345.5 327.0 L344.5 333.0 L343.8 339.0 L343.3 345.0 L343.1 350.0 L343.1 355.0 L343.3 359.9 L343.8 365.0 L344.4 368.9 L345.1 372.9 L346.1 376.9 L346.4 377.9 M108.7 377.9 L106.5 368.9 L103.2 357.0 L97.7 337.5 L90.6 312.1 L86.7 297.3 L83.5 284.1 L80.7 271.6 L78.4 260.2 L76.4 249.2 L74.6 238.3 L73.0 227.3 L71.7 216.3 L70.5 205.4 L69.6 194.4 L68.9 183.4 L68.4 172.4 L68.1 160.5 L68.0 148.5 L68.1 136.5 L68.5 124.6 L69.0 112.6 L69.9 99.6 L71.0 85.7 L72.2 73.7" fill="none" stroke="#aa2395" stroke-width="2.1" stroke-linejoin="round"/>
<path d="M411.8 133.5 L407.8 138.1 L403.4 143.5 L398.9 149.5 L394.6 155.5 L389.8 162.7 L384.8 170.5 L379.3 179.4 L373.5 189.4 L366.7 201.4 L359.7 214.3 L351.8 229.3 L343.6 245.2 L335.6 261.2 L328.4 276.2 L321.8 290.5 L316.6 302.1 L311.9 313.1 L307.8 323.6 L305.0 331.0 L302.3 339.0 L300.2 346.0 L298.5 352.0 L297.2 358.0 L296.3 362.9 L295.5 367.9 L295.1 372.9 L295.0 376.9 L294.9 377.9 M149.4 377.9 L144.5 367.9 L126.5 332.0 L121.7 321.8 L117.4 312.1 L113.7 303.1 L109.8 293.1 L106.7 284.6 L103.5 275.2 L100.7 266.0 L98.0 256.2 L95.7 247.2 L93.6 238.3 L91.5 228.3 L89.7 218.3 L88.2 208.3 L86.8 198.4 L85.8 188.4 L84.9 178.4 L84.3 168.5 L83.9 158.5 L83.7 148.5 L83.8 138.5 L84.0 128.6 L84.5 117.6 L85.2 106.6 L86.2 95.6 L87.3 84.7 L88.7 73.7" fill="none" stroke="#cc4778" stroke-width="2.1" stroke-linejoin="round"/>
<path d="M411.8 77.5 L408.8 80.1 L405.8 83.0 L402.3 86.7 L399.8 89.7 L396.6 93.6 L392.8 98.8 L388.8 104.7 L384.4 111.6 L379.6 119.6 L373.8 129.6 L366.7 142.5 L356.0 162.5 L334.1 203.4 L324.7 220.3 L315.8 236.0 L307.4 250.2 L300.7 261.2 L293.7 272.2 L287.1 282.2 L281.8 289.8 L275.7 298.1 L270.3 305.1 L265.8 310.6 L260.8 316.2 L256.2 321.0 L252.8 324.4 L248.7 328.0 L244.8 331.2 L240.8 334.1 L237.8 336.0 L234.2 338.0 L231.7 339.2 L228.7 340.5 L225.7 341.6 L222.7 342.5 L219.7 343.1 L216.7 343.5 L213.7 343.7 L210.7 343.7 L207.7 343.5 L204.7 343.1 L201.7 342.5 L198.7 341.7 L195.7 340.8 L192.7 339.6 L188.7 337.8 L184.7 335.6 L180.7 333.2 L176.7 330.4 L172.7 327.4 L168.7 324.0 L164.4 320.1 L160.5 316.1 L156.7 311.9 L152.6 307.1 L148.7 302.1 L144.7 296.6 L140.7 290.5 L137.4 285.1 L134.0 279.2 L131.3 274.2 L128.4 268.2 L125.6 262.2 L122.6 255.2 L119.7 247.8 L117.1 240.3 L114.7 232.9 L112.5 225.3 L110.5 217.3 L108.6 209.3 L107.1 201.4 L105.7 193.4 L104.4 184.4 L103.4 175.4 L102.6 166.5 L102.0 157.5 L101.7 148.5 L101.6 139.5 L101.7 130.6 L102.1 121.6 L102.7 112.0 L103.5 103.6 L104.5 94.6 L105.7 85.7 L107.2 76.7 L107.7 73.7" fill="none" stroke="#e66c5c" stroke-width="2.1" stroke-linejoin="round"/>
<path d="M353.1 73.7 L351.8 80.1 L350.5 85.7 L348.7 92.7 L346.3 100.6 L343.7 108.6 L340.6 117.6 L337.2 126.6 L333.5 135.5 L329.3 145.5 L324.7 155.5 L319.8 165.7 L314.8 175.6 L309.8 184.9 L304.8 193.7 L299.6 202.4 L294.6 210.3 L289.3 218.3 L284.4 225.3 L279.8 231.6 L274.8 238.0 L269.8 243.9 L264.9 249.2 L261.0 253.2 L257.8 256.4 L253.5 260.2 L249.8 263.4 L245.8 266.4 L241.7 269.2 L237.8 271.6 L233.8 273.8 L229.7 275.7 L225.7 277.3 L221.7 278.5 L218.7 279.3 L215.7 279.8 L212.7 280.2 L209.7 280.4 L206.7 280.5 L203.7 280.3 L200.7 280.0 L197.7 279.5 L194.7 278.8 L191.7 277.9 L188.7 276.9 L185.7 275.6 L182.7 274.1 L179.3 272.2 L176.2 270.2 L173.5 268.2 L170.7 266.0 L167.5 263.2 L164.4 260.2 L161.6 257.2 L158.1 253.2 L155.7 250.2 L152.7 246.0 L149.6 241.3 L146.6 236.3 L143.7 230.9 L141.0 225.3 L138.7 220.2 L136.4 214.3 L134.2 208.3 L132.3 202.4 L130.6 196.4 L128.9 189.4 L127.6 183.4 L126.3 176.4 L125.2 169.4 L124.4 162.5 L123.7 155.2 L123.3 148.5 L123.0 140.5 L123.0 132.5 L123.3 124.6 L123.8 116.6 L124.5 108.6 L125.4 101.6 L126.4 94.6 L127.7 87.4 L129.2 80.7 L130.9 73.7" fill="none" stroke="#f89540" stroke-width="2.1" stroke-linejoin="round"/>
<path d="M299.5 73.7 L300.2 77.7 L300.8 81.9 L301.1 85.7 L301.2 89.7 L301.1 94.6 L300.8 99.8 L300.2 104.6 L299.4 109.6 L298.5 114.6 L297.1 120.6 L295.4 126.6 L293.5 132.5 L291.3 138.5 L288.8 144.9 L286.3 150.5 L283.4 156.5 L280.3 162.5 L277.0 168.5 L273.8 173.7 L270.0 179.4 L266.4 184.4 L262.5 189.4 L258.8 193.9 L254.8 198.3 L251.7 201.4 L247.8 205.0 L243.8 208.3 L240.8 210.5 L236.8 213.2 L233.2 215.3 L230.7 216.6 L227.0 218.3 L224.4 219.3 L221.2 220.3 L218.7 220.9 L215.7 221.5 L212.7 221.9 L209.7 222.0 L206.7 222.0 L203.7 221.7 L200.7 221.2 L197.5 220.3 L194.6 219.3 L191.7 218.1 L188.7 216.5 L185.7 214.7 L182.7 212.5 L180.2 210.3 L177.7 208.1 L175.2 205.4 L172.7 202.4 L170.5 199.4 L168.5 196.4 L166.1 192.4 L163.9 188.4 L162.1 184.4 L160.4 180.4 L158.6 175.4 L157.0 170.4 L155.7 165.5 L154.5 160.5 L153.5 154.5 L152.6 148.5 L152.1 142.5 L151.8 136.5 L151.7 130.6 L151.8 124.6 L152.2 118.6 L152.8 112.6 L153.7 106.3 L154.8 100.6 L156.2 94.6 L157.7 88.9 L159.4 83.7 L161.2 78.7 L163.3 73.7" fill="none" stroke="#fdc527" stroke-width="2.1" stroke-linejoin="round"/>
</g>
<circle cx="69.0" cy="85.0" r="5.9" fill="#7201a8" stroke="#fff" stroke-width="1.6"/>
<circle cx="134.3" cy="85.0" r="5.9" fill="#f7e225" stroke="#fff" stroke-width="1.6"/>
<circle cx="199.6" cy="85.0" r="5.9" fill="#fbd124" stroke="#fff" stroke-width="1.6"/>
<circle cx="264.9" cy="85.0" r="5.9" fill="#f5e626" stroke="#fff" stroke-width="1.6"/>
<circle cx="330.2" cy="85.0" r="5.9" fill="#ee7b51" stroke="#fff" stroke-width="1.6"/>
<circle cx="395.5" cy="85.0" r="5.9" fill="#f48849" stroke="#fff" stroke-width="1.6"/>
<circle cx="69.0" cy="141.3" r="5.9" fill="#3a049a" stroke="#fff" stroke-width="1.6"/>
<circle cx="134.3" cy="141.3" r="5.9" fill="#fccd25" stroke="#fff" stroke-width="1.6"/>
<circle cx="199.6" cy="141.3" r="5.9" fill="#eff821" stroke="#fff" stroke-width="1.6"/>
<circle cx="264.9" cy="141.3" r="5.9" fill="#fad424" stroke="#fff" stroke-width="1.6"/>
<circle cx="330.2" cy="141.3" r="5.9" fill="#fdb52e" stroke="#fff" stroke-width="1.6"/>
<circle cx="395.5" cy="141.3" r="5.9" fill="#b02991" stroke="#fff" stroke-width="1.6"/>
<circle cx="69.0" cy="197.6" r="5.9" fill="#41049d" stroke="#fff" stroke-width="1.6"/>
<circle cx="134.3" cy="197.6" r="5.9" fill="#fcc726" stroke="#fff" stroke-width="1.6"/>
<circle cx="199.6" cy="197.6" r="5.9" fill="#f3e625" stroke="#fff" stroke-width="1.6"/>
<circle cx="264.9" cy="197.6" r="5.9" fill="#f4e526" stroke="#fff" stroke-width="1.6"/>
<circle cx="330.2" cy="197.6" r="5.9" fill="#ea7457" stroke="#fff" stroke-width="1.6"/>
<circle cx="395.5" cy="197.6" r="5.9" fill="#35049a" stroke="#fff" stroke-width="1.6"/>
<circle cx="69.0" cy="254.0" r="5.9" fill="#4903a0" stroke="#fff" stroke-width="1.6"/>
<circle cx="134.3" cy="254.0" r="5.9" fill="#fba635" stroke="#fff" stroke-width="1.6"/>
<circle cx="199.6" cy="254.0" r="5.9" fill="#fcd025" stroke="#fff" stroke-width="1.6"/>
<circle cx="264.9" cy="254.0" r="5.9" fill="#ea7457" stroke="#fff" stroke-width="1.6"/>
<circle cx="330.2" cy="254.0" r="5.9" fill="#b93289" stroke="#fff" stroke-width="1.6"/>
<circle cx="395.5" cy="254.0" r="5.9" fill="#7100a8" stroke="#fff" stroke-width="1.6"/>
<circle cx="69.0" cy="310.3" r="5.9" fill="#4c02a1" stroke="#fff" stroke-width="1.6"/>
<circle cx="134.3" cy="310.3" r="5.9" fill="#bf3984" stroke="#fff" stroke-width="1.6"/>
<circle cx="199.6" cy="310.3" r="5.9" fill="#c03a83" stroke="#fff" stroke-width="1.6"/>
<circle cx="264.9" cy="310.3" r="5.9" fill="#c43e7f" stroke="#fff" stroke-width="1.6"/>
<circle cx="330.2" cy="310.3" r="5.9" fill="#8606a6" stroke="#fff" stroke-width="1.6"/>
<circle cx="395.5" cy="310.3" r="5.9" fill="#260591" stroke="#fff" stroke-width="1.6"/>
<circle cx="69.0" cy="366.6" r="5.9" fill="#4903a0" stroke="#fff" stroke-width="1.6"/>
<circle cx="134.3" cy="366.6" r="5.9" fill="#5c01a6" stroke="#fff" stroke-width="1.6"/>
<circle cx="199.6" cy="366.6" r="5.9" fill="#d14e72" stroke="#fff" stroke-width="1.6"/>
<circle cx="264.9" cy="366.6" r="5.9" fill="#fdb52e" stroke="#fff" stroke-width="1.6"/>
<circle cx="330.2" cy="366.6" r="5.9" fill="#6800a8" stroke="#fff" stroke-width="1.6"/>
<circle cx="395.5" cy="366.6" r="5.9" fill="#100788" stroke="#fff" stroke-width="1.6"/>
<rect x="52.7" y="73.7" width="359.1" height="304.2" fill="none" stroke="#3a3a3a" stroke-width="1.05"/>
<path d="M48.7 366.6H52.7" stroke="#3a3a3a" stroke-width="1.1"/>
<text x="45.1" y="372.6" font-size="15.8" text-anchor="end">0</text>
<path d="M48.7 310.3H52.7" stroke="#3a3a3a" stroke-width="1.1"/>
<text x="45.1" y="316.3" font-size="15.8" text-anchor="end">50</text>
<path d="M48.7 254.0H52.7" stroke="#3a3a3a" stroke-width="1.1"/>
<text x="45.1" y="260.0" font-size="15.8" text-anchor="end">100</text>
<path d="M48.7 197.6H52.7" stroke="#3a3a3a" stroke-width="1.1"/>
<text x="45.1" y="203.6" font-size="15.8" text-anchor="end">150</text>
<path d="M48.7 141.3H52.7" stroke="#3a3a3a" stroke-width="1.1"/>
<text x="45.1" y="147.3" font-size="15.8" text-anchor="end">200</text>
<path d="M48.7 85.0H52.7" stroke="#3a3a3a" stroke-width="1.1"/>
<text x="45.1" y="91.0" font-size="15.8" text-anchor="end">250</text>
<path d="M69.0 377.9V381.9" stroke="#3a3a3a" stroke-width="1.1"/>
<text x="69.0" y="397.8" font-size="15.8" text-anchor="middle">0.0</text>
<path d="M134.3 377.9V381.9" stroke="#3a3a3a" stroke-width="1.1"/>
<text x="134.3" y="397.8" font-size="15.8" text-anchor="middle">0.2</text>
<path d="M199.6 377.9V381.9" stroke="#3a3a3a" stroke-width="1.1"/>
<text x="199.6" y="397.8" font-size="15.8" text-anchor="middle">0.4</text>
<path d="M264.9 377.9V381.9" stroke="#3a3a3a" stroke-width="1.1"/>
<text x="264.9" y="397.8" font-size="15.8" text-anchor="middle">0.6</text>
<path d="M330.2 377.9V381.9" stroke="#3a3a3a" stroke-width="1.1"/>
<text x="330.2" y="397.8" font-size="15.8" text-anchor="middle">0.8</text>
<path d="M395.5 377.9V381.9" stroke="#3a3a3a" stroke-width="1.1"/>
<text x="395.5" y="397.8" font-size="15.8" text-anchor="middle">1.0</text>
<text x="232.5" y="416" font-size="15.8" text-anchor="middle">Dopant:HTM (<tspan font-style="italic" dx="0.4">n</tspan><tspan dx="1.0">/</tspan><tspan font-style="italic" dx="1.0">n</tspan><tspan dx="0.3">)</tspan></text>
<text transform="translate(12 224.6) rotate(-90)" font-size="15.8" text-anchor="middle">Annealing time (<tspan font-style="italic">s</tspan>)</text>
<rect x="475.3" y="73.7" width="9.0" height="304.2" fill="url(#cb)" stroke="#333" stroke-width="0.8"/>
<path d="M471.2 73.7H475.2M471.2 377.9H475.2" stroke="#3a3a3a" stroke-width="1.1"/>
<text x="467.6" y="80.0" font-size="15.8" text-anchor="end">Good</text>
<text x="467.6" y="384.3" font-size="15.8" text-anchor="end">Poor</text>
<text transform="translate(454.4 225.8) rotate(-90)" font-size="15.8" text-anchor="middle">Dewetting score (<tspan font-style="italic">S</tspan><tspan font-style="italic" font-size="12.2" dy="3.4">dewet</tspan><tspan dy="-3.4">)</tspan></text>
<path d="M563.5 41.2 L501.5 65.6 L500.4 62.8 L491.9 71.8 L504.3 72.6 L503.2 69.8 L565.1 45.4Z" fill="#d3d3d3"/>
<path d="M563.9 132.2 L502.5 144.2 L501.9 141.3 L491.9 148.6 L503.9 151.7 L503.3 148.7 L564.7 136.8Z" fill="#d3d3d3"/>
<path d="M564.3 223.5 L503.1 223.5 L503.1 220.5 L491.9 225.8 L503.1 231.1 L503.1 228.1 L564.3 228.1Z" fill="#d3d3d3"/>
<path d="M564.7 314.9 L503.3 302.9 L503.9 300.0 L491.9 303.0 L501.9 310.4 L502.4 307.4 L563.9 319.5Z" fill="#d3d3d3"/>
<path d="M565.1 406.0 L503.2 382.2 L504.3 379.4 L491.9 380.3 L500.5 389.3 L501.5 386.5 L563.5 410.2Z" fill="#d3d3d3"/>
<g clip-path="url(#cp1)">
<rect x="573.6" y="1" width="111.4" height="82.4" fill="url(#p1b)"/>
<rect x="573.6" y="1" width="4" height="82.4" fill="#171c30"/>
<rect x="577.4" y="1" width="1" height="82.4" fill="#35566e" opacity=".7"/>
<rect x="577.3" y="26" width="1.5" height="7" fill="#a8dcf0" opacity=".8"/>
<rect x="577.4" y="44" width="1.1" height="10" fill="#5c9cba" opacity=".5"/>
<rect x="680.8" y="1" width="0.9" height="82.4" fill="#3f6278" opacity=".7"/>
<rect x="681.8" y="1" width="4" height="82.4" fill="#181e32"/>
<rect x="681" y="20" width="1" height="14" fill="#7fb6cc" opacity=".6"/>
<rect x="681" y="48" width="1" height="12" fill="#6aa4bc" opacity=".5"/>
<circle cx="647.1" cy="9.9" r="0.5" fill="#6fa8c4" opacity="0.36"/>
<circle cx="642.0" cy="18.2" r="0.7" fill="#6fa8c4" opacity="0.62"/>
<circle cx="663.0" cy="13.2" r="0.6" fill="#6fa8c4" opacity="0.41"/>
<circle cx="645.2" cy="10.0" r="0.5" fill="#6fa8c4" opacity="0.67"/>
<circle cx="664.9" cy="29.6" r="0.6" fill="#6fa8c4" opacity="0.38"/>
<circle cx="649.3" cy="24.6" r="0.6" fill="#6fa8c4" opacity="0.64"/>
<circle cx="666.4" cy="9.4" r="0.6" fill="#6fa8c4" opacity="0.57"/>
<circle cx="655.2" cy="12.0" r="0.5" fill="#6fa8c4" opacity="0.34"/>
<circle cx="668.0" cy="31.2" r="0.6" fill="#6fa8c4" opacity="0.42"/>
<circle cx="667.3" cy="23.0" r="0.7" fill="#6fa8c4" opacity="0.64"/>
<circle cx="655.3" cy="18.6" r="0.6" fill="#6fa8c4" opacity="0.47"/>
<circle cx="644.8" cy="15.5" r="0.6" fill="#6fa8c4" opacity="0.32"/>
<circle cx="641.4" cy="24.5" r="0.5" fill="#6fa8c4" opacity="0.51"/>
<circle cx="654.1" cy="16.6" r="0.7" fill="#6fa8c4" opacity="0.38"/>
</g>
<g clip-path="url(#cp2)">
<rect x="573.6" y="92.1" width="111.4" height="83.7" fill="url(#p2b)"/>
<g filter="url(#bl2)" opacity=".6"><ellipse cx="574" cy="112.1" rx="6.5" ry="21" fill="#4c9cb8"/><path d="M655 90.1L662 90.1L677 112.1L677 128.1Z" fill="#3f88a6"/></g>
<g mask="url(#m2)">
<rect x="573.6" y="92.1" width="111.4" height="83.7" fill="#000" filter="url(#sE)"/>
<rect x="573.6" y="92.1" width="111.4" height="83.7" fill="#000" filter="url(#sB)"/>
</g>
<rect x="676.3" y="92.1" width="9" height="83.7" fill="#222b4a"/>
<rect x="573.6" y="92.1" width="2" height="83.7" fill="#6cc0d8" opacity=".85"/>
<rect x="675.3" y="92.1" width="1" height="83.7" fill="#44849f" opacity=".85"/>
</g>
<g clip-path="url(#cp3)">
<rect x="573.6" y="184" width="111.4" height="83.8" fill="url(#p3b)"/>
<circle cx="618.9" cy="205.2" r="0.62" fill="#78a8d4" opacity="0.22"/>
<circle cx="640.2" cy="221.0" r="0.68" fill="#78a8d4" opacity="0.34"/>
<circle cx="624.7" cy="190.0" r="0.78" fill="#78a8d4" opacity="0.26"/>
<circle cx="615.2" cy="216.2" r="0.58" fill="#78a8d4" opacity="0.40"/>
<circle cx="635.1" cy="196.0" r="0.80" fill="#78a8d4" opacity="0.46"/>
<circle cx="583.8" cy="218.5" r="0.76" fill="#78a8d4" opacity="0.40"/>
<circle cx="623.8" cy="198.5" r="0.83" fill="#78a8d4" opacity="0.37"/>
<circle cx="603.9" cy="188.6" r="0.60" fill="#78a8d4" opacity="0.43"/>
<circle cx="625.3" cy="224.0" r="0.80" fill="#78a8d4" opacity="0.23"/>
<circle cx="646.9" cy="201.9" r="0.59" fill="#78a8d4" opacity="0.51"/>
<circle cx="626.6" cy="197.8" r="0.56" fill="#78a8d4" opacity="0.20"/>
<circle cx="655.9" cy="202.6" r="0.80" fill="#78a8d4" opacity="0.48"/>
<circle cx="602.4" cy="201.1" r="0.51" fill="#78a8d4" opacity="0.32"/>
<circle cx="624.7" cy="207.0" r="0.60" fill="#78a8d4" opacity="0.24"/>
<circle cx="605.4" cy="226.8" r="0.78" fill="#78a8d4" opacity="0.26"/>
<circle cx="673.9" cy="212.3" r="0.73" fill="#78a8d4" opacity="0.29"/>
<circle cx="645.3" cy="193.6" r="0.77" fill="#78a8d4" opacity="0.54"/>
<circle cx="630.2" cy="222.3" r="0.56" fill="#78a8d4" opacity="0.29"/>
<circle cx="639.9" cy="203.4" r="0.79" fill="#78a8d4" opacity="0.37"/>
<circle cx="625.9" cy="209.0" r="0.77" fill="#78a8d4" opacity="0.32"/>
<circle cx="658.0" cy="199.0" r="0.51" fill="#78a8d4" opacity="0.49"/>
<circle cx="581.4" cy="217.4" r="0.71" fill="#78a8d4" opacity="0.38"/>
<circle cx="603.1" cy="214.2" r="0.55" fill="#78a8d4" opacity="0.35"/>
<circle cx="602.6" cy="206.4" r="0.52" fill="#78a8d4" opacity="0.20"/>
<circle cx="611.3" cy="191.6" r="0.67" fill="#78a8d4" opacity="0.47"/>
<circle cx="628.7" cy="221.0" r="0.75" fill="#78a8d4" opacity="0.52"/>
<circle cx="623.4" cy="215.7" r="0.64" fill="#78a8d4" opacity="0.53"/>
<circle cx="670.6" cy="247.2" r="0.79" fill="#78a8d4" opacity="0.25"/>
<circle cx="644.3" cy="215.2" r="0.81" fill="#78a8d4" opacity="0.25"/>
<circle cx="601.1" cy="204.0" r="0.61" fill="#78a8d4" opacity="0.37"/>
<circle cx="610.6" cy="210.7" r="0.46" fill="#78a8d4" opacity="0.39"/>
<circle cx="586.2" cy="187.0" r="0.77" fill="#78a8d4" opacity="0.54"/>
<circle cx="650.0" cy="188.4" r="0.73" fill="#78a8d4" opacity="0.23"/>
<circle cx="640.9" cy="242.9" r="0.77" fill="#78a8d4" opacity="0.23"/>
<circle cx="633.1" cy="190.0" r="0.56" fill="#78a8d4" opacity="0.25"/>
<circle cx="611.1" cy="206.1" r="0.57" fill="#78a8d4" opacity="0.47"/>
<circle cx="622.0" cy="214.4" r="0.53" fill="#78a8d4" opacity="0.37"/>
<circle cx="597.3" cy="192.1" r="0.65" fill="#78a8d4" opacity="0.44"/>
<circle cx="635.9" cy="197.3" r="0.48" fill="#78a8d4" opacity="0.46"/>
<circle cx="603.3" cy="229.3" r="0.57" fill="#78a8d4" opacity="0.36"/>
<circle cx="628.9" cy="192.1" r="0.84" fill="#78a8d4" opacity="0.31"/>
<circle cx="599.3" cy="186.1" r="0.45" fill="#78a8d4" opacity="0.29"/>
<circle cx="602.3" cy="235.3" r="0.68" fill="#78a8d4" opacity="0.39"/>
<circle cx="594.3" cy="225.5" r="0.74" fill="#78a8d4" opacity="0.43"/>
<circle cx="658.0" cy="230.2" r="0.51" fill="#78a8d4" opacity="0.38"/>
<circle cx="665.7" cy="220.9" r="0.73" fill="#78a8d4" opacity="0.28"/>
<circle cx="633.6" cy="201.2" r="0.70" fill="#78a8d4" opacity="0.44"/>
<circle cx="631.4" cy="186.2" r="0.48" fill="#78a8d4" opacity="0.46"/>
<circle cx="651.0" cy="188.6" r="0.65" fill="#78a8d4" opacity="0.33"/>
<circle cx="624.1" cy="216.9" r="0.57" fill="#78a8d4" opacity="0.40"/>
<circle cx="661.3" cy="188.5" r="0.66" fill="#78a8d4" opacity="0.36"/>
<circle cx="585.6" cy="196.5" r="0.84" fill="#78a8d4" opacity="0.36"/>
<circle cx="593.6" cy="202.2" r="0.83" fill="#78a8d4" opacity="0.25"/>
<circle cx="635.4" cy="204.0" r="0.46" fill="#78a8d4" opacity="0.20"/>
<circle cx="610.3" cy="221.4" r="0.45" fill="#78a8d4" opacity="0.46"/>
<circle cx="561.9" cy="190.1" r="0.69" fill="#78a8d4" opacity="0.33"/>
<circle cx="675.3" cy="193.6" r="0.65" fill="#78a8d4" opacity="0.27"/>
<circle cx="632.7" cy="211.9" r="0.47" fill="#78a8d4" opacity="0.46"/>
<circle cx="669.0" cy="234.6" r="0.50" fill="#78a8d4" opacity="0.37"/>
<circle cx="631.5" cy="196.7" r="0.53" fill="#78a8d4" opacity="0.52"/>
<circle cx="636.3" cy="206.0" r="0.49" fill="#78a8d4" opacity="0.28"/>
<circle cx="619.7" cy="205.4" r="0.60" fill="#78a8d4" opacity="0.32"/>
<circle cx="640.4" cy="210.9" r="0.54" fill="#78a8d4" opacity="0.29"/>
<circle cx="666.0" cy="232.1" r="0.64" fill="#78a8d4" opacity="0.41"/>
<circle cx="634.9" cy="196.1" r="0.66" fill="#78a8d4" opacity="0.44"/>
<circle cx="633.1" cy="213.8" r="0.76" fill="#78a8d4" opacity="0.28"/>
<circle cx="641.1" cy="235.1" r="0.73" fill="#78a8d4" opacity="0.24"/>
<circle cx="617.2" cy="214.4" r="0.83" fill="#78a8d4" opacity="0.43"/>
<circle cx="648.2" cy="216.9" r="0.46" fill="#78a8d4" opacity="0.37"/>
<circle cx="612.9" cy="201.2" r="0.72" fill="#78a8d4" opacity="0.27"/>
<circle cx="609.9" cy="237.2" r="0.78" fill="#78a8d4" opacity="0.28"/>
<circle cx="644.6" cy="196.2" r="0.61" fill="#78a8d4" opacity="0.27"/>
<circle cx="650.3" cy="187.3" r="0.82" fill="#78a8d4" opacity="0.32"/>
<circle cx="642.8" cy="188.5" r="0.59" fill="#78a8d4" opacity="0.53"/>
<circle cx="625.3" cy="195.2" r="0.60" fill="#78a8d4" opacity="0.52"/>
<circle cx="657.9" cy="230.3" r="0.76" fill="#78a8d4" opacity="0.21"/>
<circle cx="617.3" cy="191.5" r="0.70" fill="#78a8d4" opacity="0.29"/>
<circle cx="668.0" cy="244.2" r="0.70" fill="#78a8d4" opacity="0.53"/>
<circle cx="679.8" cy="189.0" r="0.62" fill="#78a8d4" opacity="0.37"/>
<circle cx="654.2" cy="191.7" r="0.58" fill="#78a8d4" opacity="0.31"/>
<circle cx="583.3" cy="200.3" r="0.58" fill="#78a8d4" opacity="0.54"/>
<circle cx="620.0" cy="211.0" r="0.72" fill="#78a8d4" opacity="0.46"/>
<circle cx="625.3" cy="217.3" r="0.51" fill="#78a8d4" opacity="0.51"/>
<circle cx="642.7" cy="208.6" r="0.49" fill="#78a8d4" opacity="0.37"/>
<circle cx="591.4" cy="255.4" r="0.53" fill="#78a8d4" opacity="0.54"/>
<circle cx="641.5" cy="196.3" r="0.51" fill="#78a8d4" opacity="0.27"/>
<circle cx="636.3" cy="221.4" r="0.67" fill="#78a8d4" opacity="0.22"/>
<circle cx="595.7" cy="200.8" r="0.61" fill="#78a8d4" opacity="0.30"/>
<circle cx="662.5" cy="216.0" r="0.53" fill="#78a8d4" opacity="0.45"/>
<circle cx="619.0" cy="186.6" r="0.63" fill="#78a8d4" opacity="0.26"/>
<circle cx="619.5" cy="208.6" r="0.82" fill="#78a8d4" opacity="0.24"/>
<circle cx="670.5" cy="242.9" r="0.84" fill="#78a8d4" opacity="0.37"/>
<circle cx="651.1" cy="213.9" r="0.50" fill="#78a8d4" opacity="0.29"/>
<circle cx="591.3" cy="240.6" r="0.69" fill="#78a8d4" opacity="0.39"/>
<circle cx="620.6" cy="198.4" r="0.70" fill="#78a8d4" opacity="0.37"/>
<circle cx="625.4" cy="229.0" r="0.49" fill="#78a8d4" opacity="0.24"/>
<circle cx="626.8" cy="190.7" r="0.74" fill="#78a8d4" opacity="0.47"/>
<circle cx="593.1" cy="189.8" r="0.85" fill="#78a8d4" opacity="0.46"/>
<circle cx="637.1" cy="195.3" r="0.48" fill="#78a8d4" opacity="0.32"/>
<circle cx="593.8" cy="197.3" r="0.82" fill="#78a8d4" opacity="0.27"/>
<circle cx="595.5" cy="237.6" r="0.82" fill="#78a8d4" opacity="0.44"/>
<circle cx="575.7" cy="203.6" r="0.80" fill="#78a8d4" opacity="0.39"/>
<circle cx="627.2" cy="211.3" r="0.52" fill="#78a8d4" opacity="0.46"/>
<circle cx="601.3" cy="214.9" r="0.46" fill="#78a8d4" opacity="0.25"/>
<circle cx="618.6" cy="215.2" r="0.59" fill="#78a8d4" opacity="0.28"/>
<circle cx="592.9" cy="210.6" r="0.55" fill="#78a8d4" opacity="0.25"/>
<circle cx="633.2" cy="207.7" r="0.71" fill="#78a8d4" opacity="0.40"/>
<circle cx="584.2" cy="228.1" r="0.66" fill="#78a8d4" opacity="0.34"/>
<circle cx="634.4" cy="204.7" r="0.65" fill="#78a8d4" opacity="0.42"/>
<circle cx="665.4" cy="197.7" r="0.74" fill="#78a8d4" opacity="0.20"/>
<circle cx="653.6" cy="216.7" r="0.54" fill="#78a8d4" opacity="0.21"/>
<circle cx="605.5" cy="211.8" r="0.62" fill="#78a8d4" opacity="0.48"/>
<circle cx="651.4" cy="203.9" r="0.75" fill="#78a8d4" opacity="0.31"/>
<circle cx="643.2" cy="197.1" r="0.79" fill="#78a8d4" opacity="0.35"/>
<circle cx="587.5" cy="224.8" r="0.81" fill="#78a8d4" opacity="0.25"/>
<circle cx="596.2" cy="193.1" r="0.73" fill="#78a8d4" opacity="0.42"/>
<circle cx="657.9" cy="203.8" r="0.83" fill="#78a8d4" opacity="0.24"/>
<circle cx="640.6" cy="231.5" r="0.56" fill="#78a8d4" opacity="0.23"/>
<circle cx="607.1" cy="230.4" r="0.74" fill="#78a8d4" opacity="0.33"/>
<circle cx="613.3" cy="188.2" r="0.67" fill="#78a8d4" opacity="0.28"/>
<circle cx="589.0" cy="194.4" r="0.65" fill="#78a8d4" opacity="0.37"/>
<circle cx="605.0" cy="197.3" r="0.56" fill="#78a8d4" opacity="0.28"/>
<circle cx="655.6" cy="205.5" r="0.76" fill="#78a8d4" opacity="0.42"/>
<circle cx="666.5" cy="214.3" r="0.60" fill="#78a8d4" opacity="0.51"/>
<circle cx="619.1" cy="200.5" r="0.79" fill="#78a8d4" opacity="0.43"/>
<circle cx="636.3" cy="190.9" r="0.80" fill="#78a8d4" opacity="0.28"/>
<circle cx="611.4" cy="210.6" r="0.51" fill="#78a8d4" opacity="0.31"/>
<circle cx="674.4" cy="198.6" r="0.74" fill="#78a8d4" opacity="0.35"/>
<circle cx="583.3" cy="229.7" r="0.61" fill="#78a8d4" opacity="0.48"/>
<circle cx="622.3" cy="210.6" r="0.62" fill="#78a8d4" opacity="0.40"/>
<circle cx="654.3" cy="199.8" r="0.79" fill="#78a8d4" opacity="0.44"/>
<circle cx="620.3" cy="203.6" r="0.74" fill="#78a8d4" opacity="0.42"/>
<circle cx="644.8" cy="202.4" r="0.52" fill="#78a8d4" opacity="0.43"/>
<circle cx="655.1" cy="202.8" r="0.66" fill="#78a8d4" opacity="0.24"/>
<circle cx="659.6" cy="211.4" r="0.61" fill="#78a8d4" opacity="0.53"/>
<circle cx="618.4" cy="244.6" r="0.46" fill="#78a8d4" opacity="0.35"/>
<circle cx="651.2" cy="231.2" r="0.83" fill="#78a8d4" opacity="0.38"/>
<circle cx="577.0" cy="192.0" r="0.67" fill="#78a8d4" opacity="0.28"/>
<circle cx="614.1" cy="195.1" r="0.78" fill="#78a8d4" opacity="0.32"/>
<circle cx="621.6" cy="204.3" r="0.74" fill="#78a8d4" opacity="0.30"/>
<circle cx="663.9" cy="201.4" r="0.47" fill="#78a8d4" opacity="0.49"/>
<circle cx="606.3" cy="207.9" r="0.51" fill="#78a8d4" opacity="0.52"/>
<circle cx="644.2" cy="192.8" r="0.77" fill="#78a8d4" opacity="0.49"/>
<circle cx="664.7" cy="212.8" r="0.56" fill="#78a8d4" opacity="0.28"/>
<circle cx="582.5" cy="210.1" r="0.45" fill="#78a8d4" opacity="0.49"/>
<circle cx="620.2" cy="201.6" r="0.48" fill="#78a8d4" opacity="0.42"/>
<circle cx="611.7" cy="187.3" r="0.65" fill="#78a8d4" opacity="0.37"/>
<circle cx="614.2" cy="187.7" r="0.64" fill="#78a8d4" opacity="0.38"/>
<circle cx="635.5" cy="197.2" r="0.65" fill="#78a8d4" opacity="0.30"/>
<circle cx="605.2" cy="198.8" r="0.74" fill="#78a8d4" opacity="0.51"/>
<circle cx="667.3" cy="188.2" r="0.70" fill="#78a8d4" opacity="0.42"/>
<circle cx="624.0" cy="226.5" r="0.76" fill="#78a8d4" opacity="0.24"/>
<circle cx="655.5" cy="188.8" r="0.55" fill="#78a8d4" opacity="0.31"/>
<circle cx="585.2" cy="197.7" r="0.47" fill="#78a8d4" opacity="0.24"/>
<circle cx="617.2" cy="215.5" r="0.83" fill="#78a8d4" opacity="0.54"/>
<circle cx="658.4" cy="201.4" r="0.50" fill="#78a8d4" opacity="0.54"/>
<circle cx="626.0" cy="188.0" r="0.76" fill="#78a8d4" opacity="0.45"/>
<circle cx="604.4" cy="218.5" r="0.74" fill="#78a8d4" opacity="0.20"/>
<circle cx="650.0" cy="239.8" r="0.52" fill="#78a8d4" opacity="0.50"/>
<circle cx="631.1" cy="188.9" r="0.71" fill="#78a8d4" opacity="0.42"/>
<circle cx="585.8" cy="202.1" r="0.73" fill="#78a8d4" opacity="0.49"/>
<circle cx="605.0" cy="203.9" r="0.81" fill="#78a8d4" opacity="0.33"/>
<circle cx="599.2" cy="204.8" r="0.78" fill="#78a8d4" opacity="0.51"/>
<circle cx="606.3" cy="218.0" r="0.77" fill="#78a8d4" opacity="0.44"/>
<circle cx="599.2" cy="200.7" r="0.82" fill="#78a8d4" opacity="0.28"/>
<circle cx="652.1" cy="232.5" r="0.77" fill="#78a8d4" opacity="0.36"/>
<circle cx="666.1" cy="241.5" r="0.80" fill="#78a8d4" opacity="0.38"/>
<circle cx="647.3" cy="227.1" r="0.60" fill="#78a8d4" opacity="0.40"/>
<circle cx="615.9" cy="236.6" r="0.49" fill="#78a8d4" opacity="0.42"/>
<circle cx="638.7" cy="195.8" r="0.85" fill="#78a8d4" opacity="0.50"/>
<circle cx="670.9" cy="204.2" r="0.78" fill="#78a8d4" opacity="0.54"/>
<circle cx="584.9" cy="190.4" r="0.80" fill="#78a8d4" opacity="0.36"/>
<circle cx="604.7" cy="232.6" r="0.68" fill="#78a8d4" opacity="0.42"/>
<circle cx="672.7" cy="221.8" r="0.54" fill="#78a8d4" opacity="0.21"/>
<circle cx="584.5" cy="192.8" r="0.73" fill="#78a8d4" opacity="0.43"/>
<circle cx="636.8" cy="220.2" r="0.49" fill="#78a8d4" opacity="0.31"/>
<circle cx="593.7" cy="197.7" r="0.46" fill="#78a8d4" opacity="0.45"/>
<circle cx="663.2" cy="189.8" r="0.51" fill="#78a8d4" opacity="0.36"/>
<circle cx="625.8" cy="222.9" r="0.51" fill="#78a8d4" opacity="0.28"/>
<circle cx="605.6" cy="238.7" r="0.61" fill="#78a8d4" opacity="0.25"/>
<circle cx="591.0" cy="196.9" r="0.47" fill="#78a8d4" opacity="0.51"/>
<circle cx="702.7" cy="200.1" r="0.82" fill="#78a8d4" opacity="0.23"/>
<circle cx="620.6" cy="212.2" r="0.78" fill="#78a8d4" opacity="0.38"/>
<circle cx="629.4" cy="215.8" r="0.53" fill="#78a8d4" opacity="0.23"/>
<circle cx="638.8" cy="224.3" r="0.73" fill="#78a8d4" opacity="0.48"/>
<circle cx="660.8" cy="212.4" r="0.65" fill="#78a8d4" opacity="0.21"/>
<circle cx="590.6" cy="216.2" r="0.52" fill="#78a8d4" opacity="0.33"/>
<circle cx="591.6" cy="186.5" r="0.78" fill="#78a8d4" opacity="0.50"/>
<circle cx="627.5" cy="207.4" r="0.66" fill="#78a8d4" opacity="0.39"/>
<circle cx="581.7" cy="194.3" r="0.68" fill="#78a8d4" opacity="0.38"/>
<circle cx="641.2" cy="197.7" r="0.50" fill="#78a8d4" opacity="0.41"/>
<circle cx="659.3" cy="190.6" r="0.61" fill="#78a8d4" opacity="0.35"/>
<circle cx="640.6" cy="216.3" r="0.84" fill="#78a8d4" opacity="0.48"/>
<circle cx="672.0" cy="252.6" r="0.82" fill="#78a8d4" opacity="0.29"/>
<circle cx="621.6" cy="216.4" r="0.46" fill="#78a8d4" opacity="0.25"/>
<circle cx="664.9" cy="223.9" r="0.46" fill="#78a8d4" opacity="0.42"/>
<circle cx="601.7" cy="219.1" r="0.83" fill="#78a8d4" opacity="0.30"/>
<circle cx="622.0" cy="215.2" r="0.64" fill="#78a8d4" opacity="0.39"/>
<circle cx="588.4" cy="204.6" r="0.79" fill="#78a8d4" opacity="0.41"/>
<circle cx="632.6" cy="211.3" r="0.64" fill="#78a8d4" opacity="0.31"/>
<circle cx="635.5" cy="198.4" r="0.67" fill="#78a8d4" opacity="0.37"/>
<circle cx="612.6" cy="190.1" r="0.74" fill="#78a8d4" opacity="0.24"/>
<circle cx="639.2" cy="195.6" r="0.78" fill="#78a8d4" opacity="0.38"/>
<circle cx="648.0" cy="226.6" r="0.82" fill="#78a8d4" opacity="0.24"/>
<circle cx="672.4" cy="186.3" r="0.62" fill="#78a8d4" opacity="0.47"/>
<circle cx="603.3" cy="217.4" r="0.60" fill="#78a8d4" opacity="0.31"/>
<circle cx="635.2" cy="212.7" r="0.49" fill="#78a8d4" opacity="0.52"/>
<circle cx="581.0" cy="238.1" r="0.47" fill="#78a8d4" opacity="0.40"/>
<circle cx="642.8" cy="211.1" r="0.59" fill="#78a8d4" opacity="0.41"/>
<circle cx="633.9" cy="214.9" r="0.80" fill="#78a8d4" opacity="0.54"/>
<circle cx="665.8" cy="205.5" r="0.66" fill="#78a8d4" opacity="0.24"/>
<circle cx="607.8" cy="224.3" r="0.65" fill="#78a8d4" opacity="0.38"/>
<circle cx="675.4" cy="193.4" r="0.47" fill="#78a8d4" opacity="0.34"/>
<circle cx="619.4" cy="193.3" r="0.65" fill="#78a8d4" opacity="0.39"/>
<circle cx="595.0" cy="221.5" r="0.49" fill="#78a8d4" opacity="0.24"/>
<circle cx="627.5" cy="207.3" r="0.74" fill="#78a8d4" opacity="0.32"/>
<circle cx="605.7" cy="201.5" r="0.81" fill="#78a8d4" opacity="0.40"/>
<circle cx="669.4" cy="214.6" r="0.58" fill="#78a8d4" opacity="0.51"/>
<circle cx="642.9" cy="202.4" r="0.77" fill="#78a8d4" opacity="0.29"/>
<circle cx="607.1" cy="201.0" r="0.61" fill="#78a8d4" opacity="0.22"/>
<circle cx="583.4" cy="202.0" r="0.59" fill="#78a8d4" opacity="0.25"/>
<circle cx="603.8" cy="191.3" r="0.60" fill="#78a8d4" opacity="0.54"/>
<circle cx="605.0" cy="207.0" r="0.69" fill="#78a8d4" opacity="0.33"/>
<circle cx="606.0" cy="215.4" r="0.60" fill="#78a8d4" opacity="0.43"/>
<circle cx="653.1" cy="216.7" r="0.72" fill="#78a8d4" opacity="0.24"/>
<circle cx="649.5" cy="208.2" r="0.56" fill="#78a8d4" opacity="0.34"/>
<circle cx="645.2" cy="236.9" r="0.72" fill="#78a8d4" opacity="0.32"/>
<circle cx="613.8" cy="229.0" r="0.70" fill="#78a8d4" opacity="0.26"/>
<circle cx="609.8" cy="197.3" r="0.52" fill="#78a8d4" opacity="0.49"/>
<circle cx="613.5" cy="225.9" r="0.45" fill="#78a8d4" opacity="0.49"/>
<circle cx="600.2" cy="192.7" r="0.75" fill="#78a8d4" opacity="0.23"/>
<circle cx="620.7" cy="222.1" r="0.73" fill="#78a8d4" opacity="0.46"/>
<circle cx="621.1" cy="241.6" r="0.65" fill="#78a8d4" opacity="0.52"/>
<circle cx="673.1" cy="231.7" r="0.71" fill="#78a8d4" opacity="0.39"/>
<circle cx="649.9" cy="189.9" r="0.73" fill="#78a8d4" opacity="0.43"/>
<circle cx="634.1" cy="198.2" r="0.68" fill="#78a8d4" opacity="0.32"/>
<circle cx="637.5" cy="225.8" r="0.63" fill="#78a8d4" opacity="0.47"/>
<circle cx="616.9" cy="193.3" r="0.53" fill="#78a8d4" opacity="0.45"/>
<circle cx="693.3" cy="192.0" r="0.75" fill="#78a8d4" opacity="0.23"/>
<circle cx="629.6" cy="192.2" r="0.82" fill="#78a8d4" opacity="0.43"/>
<circle cx="597.5" cy="193.2" r="0.82" fill="#78a8d4" opacity="0.26"/>
<circle cx="659.2" cy="240.1" r="0.58" fill="#78a8d4" opacity="0.33"/>
<circle cx="634.4" cy="210.8" r="0.78" fill="#78a8d4" opacity="0.45"/>
<circle cx="587.7" cy="216.2" r="0.52" fill="#78a8d4" opacity="0.36"/>
<circle cx="592.6" cy="197.1" r="0.56" fill="#78a8d4" opacity="0.43"/>
<circle cx="659.3" cy="207.1" r="0.52" fill="#78a8d4" opacity="0.30"/>
<circle cx="611.1" cy="225.2" r="0.63" fill="#78a8d4" opacity="0.54"/>
<circle cx="608.5" cy="232.1" r="0.68" fill="#78a8d4" opacity="0.53"/>
<circle cx="582.7" cy="224.1" r="0.53" fill="#78a8d4" opacity="0.44"/>
<circle cx="620.0" cy="191.6" r="0.68" fill="#78a8d4" opacity="0.34"/>
<circle cx="647.4" cy="194.0" r="0.55" fill="#78a8d4" opacity="0.37"/>
<circle cx="640.2" cy="208.1" r="0.61" fill="#78a8d4" opacity="0.23"/>
<circle cx="649.3" cy="240.9" r="0.49" fill="#78a8d4" opacity="0.49"/>
<circle cx="593.1" cy="193.4" r="0.47" fill="#78a8d4" opacity="0.28"/>
<circle cx="648.4" cy="187.9" r="0.80" fill="#78a8d4" opacity="0.40"/>
<circle cx="605.3" cy="215.7" r="0.60" fill="#78a8d4" opacity="0.46"/>
<circle cx="590.8" cy="213.9" r="0.72" fill="#78a8d4" opacity="0.29"/>
<circle cx="629.4" cy="204.5" r="0.67" fill="#78a8d4" opacity="0.30"/>
<circle cx="646.2" cy="194.4" r="0.83" fill="#78a8d4" opacity="0.20"/>
<circle cx="611.6" cy="189.3" r="0.78" fill="#78a8d4" opacity="0.44"/>
<circle cx="663.8" cy="198.2" r="0.48" fill="#78a8d4" opacity="0.32"/>
<circle cx="607.6" cy="200.8" r="0.46" fill="#78a8d4" opacity="0.36"/>
<circle cx="605.2" cy="228.8" r="0.68" fill="#78a8d4" opacity="0.38"/>
<circle cx="640.8" cy="200.1" r="0.60" fill="#78a8d4" opacity="0.30"/>
<circle cx="653.3" cy="233.0" r="0.75" fill="#78a8d4" opacity="0.38"/>
<circle cx="615.5" cy="204.3" r="0.85" fill="#78a8d4" opacity="0.37"/>
<circle cx="580.7" cy="200.3" r="0.63" fill="#78a8d4" opacity="0.36"/>
<circle cx="609.6" cy="218.5" r="0.67" fill="#78a8d4" opacity="0.53"/>
<circle cx="614.3" cy="189.7" r="0.62" fill="#78a8d4" opacity="0.50"/>
<circle cx="621.1" cy="216.2" r="0.54" fill="#78a8d4" opacity="0.34"/>
<circle cx="650.5" cy="210.6" r="0.69" fill="#78a8d4" opacity="0.23"/>
<circle cx="641.4" cy="192.4" r="0.53" fill="#78a8d4" opacity="0.31"/>
<circle cx="659.1" cy="212.3" r="0.47" fill="#78a8d4" opacity="0.42"/>
<circle cx="581.3" cy="217.7" r="0.68" fill="#78a8d4" opacity="0.55"/>
<circle cx="626.0" cy="222.4" r="0.78" fill="#78a8d4" opacity="0.35"/>
<circle cx="611.8" cy="209.5" r="0.55" fill="#78a8d4" opacity="0.45"/>
<circle cx="630.2" cy="230.0" r="0.83" fill="#78a8d4" opacity="0.25"/>
<circle cx="615.5" cy="200.5" r="0.75" fill="#78a8d4" opacity="0.23"/>
<circle cx="640.8" cy="222.0" r="0.82" fill="#78a8d4" opacity="0.26"/>
<circle cx="611.1" cy="206.8" r="0.49" fill="#78a8d4" opacity="0.46"/>
<circle cx="668.2" cy="216.1" r="0.70" fill="#78a8d4" opacity="0.28"/>
<circle cx="652.9" cy="204.7" r="0.57" fill="#78a8d4" opacity="0.55"/>
<circle cx="605.7" cy="200.9" r="0.78" fill="#78a8d4" opacity="0.30"/>
<circle cx="657.3" cy="222.2" r="0.68" fill="#78a8d4" opacity="0.51"/>
<circle cx="675.5" cy="241.5" r="0.57" fill="#78a8d4" opacity="0.21"/>
<circle cx="668.2" cy="205.3" r="0.80" fill="#78a8d4" opacity="0.54"/>
<circle cx="691.8" cy="196.8" r="0.58" fill="#78a8d4" opacity="0.51"/>
<circle cx="633.4" cy="210.9" r="0.75" fill="#78a8d4" opacity="0.38"/>
<circle cx="664.8" cy="210.9" r="0.56" fill="#78a8d4" opacity="0.26"/>
<circle cx="581.0" cy="208.3" r="0.71" fill="#78a8d4" opacity="0.39"/>
<circle cx="573.4" cy="206.1" r="0.60" fill="#78a8d4" opacity="0.33"/>
<circle cx="668.9" cy="226.1" r="0.55" fill="#78a8d4" opacity="0.41"/>
<circle cx="655.3" cy="209.0" r="0.47" fill="#78a8d4" opacity="0.44"/>
<circle cx="580.1" cy="225.2" r="0.75" fill="#78a8d4" opacity="0.50"/>
<circle cx="651.4" cy="225.1" r="0.60" fill="#78a8d4" opacity="0.45"/>
<circle cx="640.4" cy="205.6" r="0.54" fill="#78a8d4" opacity="0.41"/>
<circle cx="593.6" cy="224.8" r="0.82" fill="#78a8d4" opacity="0.39"/>
<circle cx="653.8" cy="220.6" r="0.71" fill="#78a8d4" opacity="0.49"/>
<circle cx="633.8" cy="216.0" r="0.63" fill="#78a8d4" opacity="0.23"/>
<circle cx="594.4" cy="198.8" r="0.60" fill="#78a8d4" opacity="0.38"/>
<rect x="573.6" y="184" width="2.6" height="83.8" fill="#1a2238"/>
<rect x="576.5" y="184" width="1.5" height="83.8" fill="#9fdcf0"/>
<rect x="578" y="184" width="0.8" height="83.8" fill="#3f7094"/>
<rect x="582.8" y="206" width="0.9" height="61.8" fill="#4a88b4" opacity=".45"/>
<rect x="668.5" y="204" width="1.1" height="61.8" fill="#69a8d0" opacity=".6"/>
<rect x="677.5" y="184" width="1.3" height="83.8" fill="#86c8e2"/>
<rect x="679" y="184" width="6" height="83.8" fill="#202a48"/>
</g>
<g clip-path="url(#cp4)">
<rect x="573.6" y="276.1" width="111.4" height="83.5" fill="#1a283e"/>
<rect x="573.6" y="276.1" width="111.4" height="83.5" fill="url(#p4v)"/>
<rect x="573.6" y="276.1" width="111.4" height="83.5" fill="url(#p4h)"/>
<ellipse cx="671" cy="292.1" rx="6" ry="22" fill="#3f7ea0" opacity="0.7" filter="url(#bl2)"/>
<ellipse cx="587" cy="348.1" rx="7" ry="10" fill="#5096b9" opacity="0.6" filter="url(#bl2)"/>
<ellipse cx="643" cy="328.1" rx="36" ry="26" fill="#172236" opacity="0.9" filter="url(#bl4)"/>
<g mask="url(#m4)">
<rect x="573.6" y="276.1" width="111.4" height="83.5" fill="#000" filter="url(#sG)"/>
<rect x="573.6" y="276.1" width="111.4" height="83.5" fill="#000" filter="url(#sH)"/>
</g>
<rect x="573.6" y="276.1" width="3.4" height="83.5" fill="#141c2e"/>
<rect x="577.2" y="276.1" width="1.4" height="60.12" fill="#7cc8da"/>
<rect x="577.2" y="336.22" width="1.4" height="23.38" fill="#35687f"/>
<rect x="579" y="276.1" width="1" height="83.5" fill="#14242f" opacity=".7"/>
<rect x="674.8" y="276.1" width="1.3" height="83.5" fill="#182438"/>
<rect x="676.1" y="276.1" width="2.5" height="83.5" fill="#264660"/>
<rect x="678.6" y="276.1" width="6.6" height="83.5" fill="#202c46"/>
</g>
<g clip-path="url(#cp5)">
<rect x="573.6" y="368.4" width="111.4" height="82.3" fill="#24466a"/>
<rect x="573.6" y="368.4" width="111.4" height="82.3" fill="url(#p5v)"/>
<rect x="573.6" y="368.4" width="111.4" height="82.3" fill="url(#p5h)"/>
<ellipse cx="644" cy="426.4" rx="40" ry="22" fill="#1e3858" opacity="0.9" filter="url(#bl4)"/>
<ellipse cx="630" cy="408.4" rx="24" ry="16" fill="#1b3152" opacity="0.8" filter="url(#bl4)"/>
<ellipse cx="662" cy="424.4" rx="18" ry="14" fill="#1a3050" opacity="0.7" filter="url(#bl4)" transform="rotate(14 662 424.4)"/>
<ellipse cx="600" cy="380.4" rx="16" ry="9" fill="#7cc4e6" opacity="0.55" filter="url(#bl4)"/>
<ellipse cx="666" cy="382.4" rx="14" ry="10" fill="#356c98" opacity="0.5" filter="url(#bl4)"/>
<g mask="url(#m5)">
<rect x="573.6" y="368.4" width="111.4" height="82.3" fill="#000" filter="url(#sG)"/>
<rect x="573.6" y="368.4" width="111.4" height="82.3" fill="#000" filter="url(#sH)"/>
</g>
<rect x="573.6" y="368.4" width="4.2" height="82.3" fill="#1a2238"/>
<rect x="578" y="368.4" width="1.7" height="82.3" fill="#80c8de"/>
<rect x="580.4" y="368.4" width="1.4" height="82.3" fill="#14242f"/>
<rect x="675.7" y="368.4" width="1.3" height="82.3" fill="#131e2e"/>
<rect x="677" y="368.4" width="3.2" height="82.3" fill="#52a0c0"/>
<rect x="680.4" y="368.4" width="4.6" height="82.3" fill="#1a2238"/>
<rect x="579.8" y="440.4" width="41.1" height="4.5" fill="#fff"/>
</g>
</svg></body></html>
